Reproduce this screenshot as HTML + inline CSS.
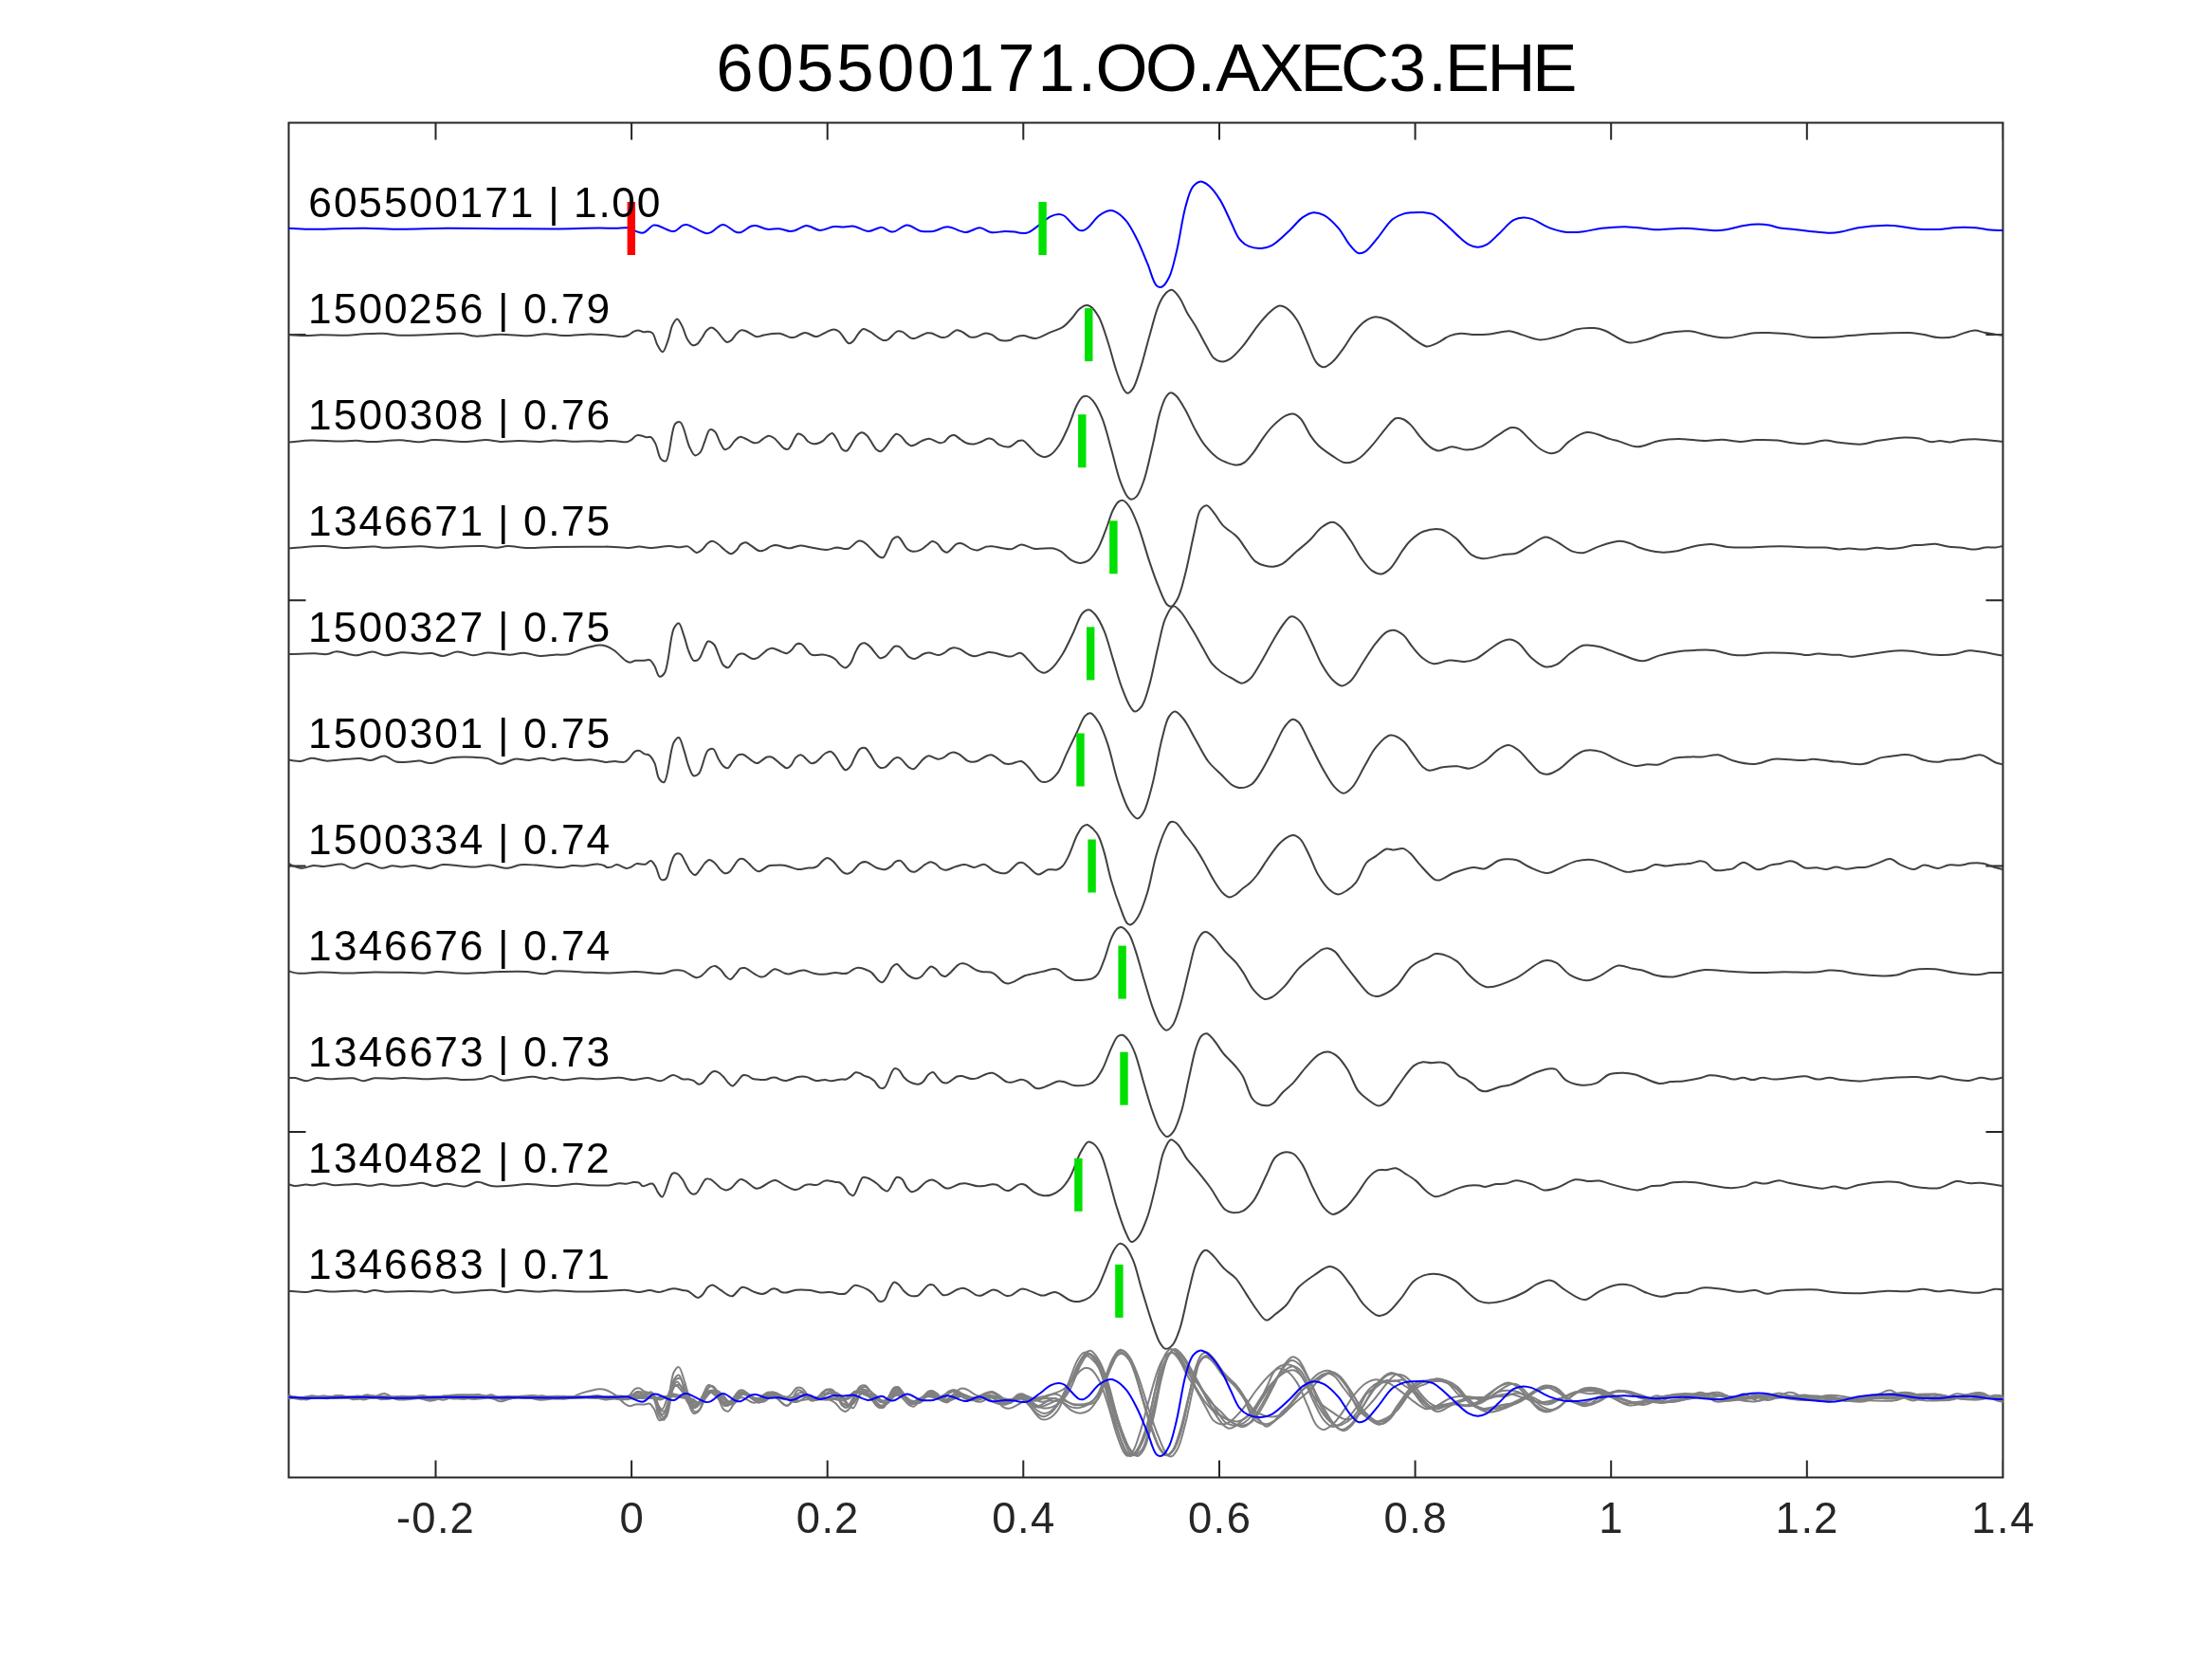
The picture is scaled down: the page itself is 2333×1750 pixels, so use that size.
<!DOCTYPE html><html><head><meta charset="utf-8"><style>html,body{margin:0;padding:0;background:#fff;overflow:hidden}svg{display:block;will-change:transform}text{font-family:"Liberation Sans",sans-serif}</style></head><body>
<svg width="2333" height="1750" viewBox="0 0 2333 1750">
<rect x="0" y="0" width="2333" height="1750" fill="#fff"/>
<text x="755.3 797.7 839.9 882.3 925.0 967.4 1009.5 1052.2 1094.4 1136.4 1155.6 1208.1 1262.6 1282.3 1327.8 1371.6 1413.9 1464.7 1506.3 1524.0 1568.4 1616.3" y="95.8" font-size="70.7" fill="#000">605500171.OO.AXEC3.EHE</text>
<defs><clipPath id="ax"><rect x="304.5" y="129.5" width="1808.0" height="1429.0"/></clipPath></defs>
<path d="M304.5 129.5 H2112.5 V1558.5 H304.5 Z M459.5 129.5 V147.5 M459.5 1558.5 V1540.5 M666.1 129.5 V147.5 M666.1 1558.5 V1540.5 M872.7 129.5 V147.5 M872.7 1558.5 V1540.5 M1079.3 129.5 V147.5 M1079.3 1558.5 V1540.5 M1286.0 129.5 V147.5 M1286.0 1558.5 V1540.5 M1492.6 129.5 V147.5 M1492.6 1558.5 V1540.5 M1699.2 129.5 V147.5 M1699.2 1558.5 V1540.5 M1905.8 129.5 V147.5 M1905.8 1558.5 V1540.5 M2112.4 129.5 V147.5 M2112.4 1558.5 V1540.5 M304.5 353.0 H322.5 M2112.5 353.0 H2094.5 M304.5 633.3 H322.5 M2112.5 633.3 H2094.5 M304.5 913.6 H322.5 M2112.5 913.6 H2094.5 M304.5 1194.0 H322.5 M2112.5 1194.0 H2094.5 M304.5 1474.3 H322.5 M2112.5 1474.3 H2094.5" fill="none" stroke="#262626" stroke-width="2"/>
<g clip-path="url(#ax)" fill="none" stroke-linejoin="round" stroke-linecap="round">
<defs><path id="w0" d="M304.2 240.8 C312.3 241.1 320.1 241.7 328.5 241.8 C337.6 241.9 347.5 241.4 357.0 241.2 C366.5 241.0 375.2 240.7 385.4 240.8 C397.1 240.9 410.0 241.8 423.4 241.8 C438.4 241.8 454.4 240.9 470.9 240.8 C489.0 240.7 508.8 241.1 527.8 241.2 C546.8 241.3 566.7 241.5 584.8 241.4 C601.4 241.3 620.3 240.6 632.3 240.6 C639.6 240.6 644.7 240.9 650.0 240.8 C654.2 240.7 657.3 239.8 661.4 240.3 C666.5 241.0 673.3 246.4 678.1 245.6 C682.3 244.9 685.9 238.5 688.9 237.6 C690.7 237.1 691.7 237.5 693.7 238.0 C697.4 238.9 705.8 243.8 709.2 244.1 C710.8 244.2 711.4 243.9 712.7 243.3 C714.8 242.3 718.0 238.5 720.3 237.6 C721.8 237.0 722.6 236.7 724.4 237.0 C728.7 237.6 740.4 245.6 744.9 246.1 C747.0 246.3 747.9 246.0 749.7 245.2 C752.8 243.9 758.2 237.9 761.1 237.2 C762.6 236.8 763.4 237.1 764.9 237.6 C767.8 238.6 773.2 243.8 776.3 244.8 C778.1 245.4 779.2 245.6 781.0 245.2 C784.1 244.5 789.3 239.5 792.4 238.5 C794.3 237.9 795.3 237.8 797.2 238.0 C800.4 238.3 805.4 241.3 809.5 241.8 C813.6 242.3 817.8 240.8 821.8 241.2 C825.7 241.6 830.2 243.7 833.2 243.9 C835.1 244.0 836.1 243.8 838.0 243.3 C841.0 242.4 846.6 238.7 849.4 238.2 C851.0 237.9 851.6 238.1 853.2 238.5 C856.0 239.1 860.5 242.6 864.6 242.9 C869.2 243.2 875.1 239.6 879.7 239.1 C883.5 238.7 886.7 239.6 890.2 239.5 C893.7 239.4 896.9 238.2 900.6 238.7 C905.2 239.3 911.0 243.9 915.8 243.9 C920.1 243.9 925.5 240.2 928.2 239.9 C929.4 239.7 929.8 239.8 931.0 240.1 C933.4 240.7 937.7 244.7 941.5 244.6 C946.1 244.5 951.6 237.7 956.6 237.6 C961.4 237.5 966.1 242.7 970.9 243.7 C975.3 244.6 979.7 244.5 984.2 243.9 C989.2 243.2 994.0 239.3 999.4 239.3 C1005.4 239.3 1012.4 245.0 1018.4 245.0 C1023.7 245.0 1028.9 240.1 1033.5 240.3 C1037.6 240.5 1040.7 244.3 1044.9 245.0 C1049.5 245.8 1055.6 244.1 1060.1 244.1 C1063.8 244.1 1067.2 244.3 1070.0 244.6 C1072.2 244.9 1073.9 245.4 1075.7 245.7 C1077.3 245.9 1078.8 246.2 1080.4 246.1 C1082.0 246.0 1083.3 245.7 1085.2 244.9 C1088.3 243.5 1092.8 239.7 1096.6 237.0 C1100.4 234.2 1104.3 230.3 1108.0 228.4 C1110.9 226.9 1113.9 225.9 1116.5 225.9 C1118.6 225.9 1120.4 226.4 1122.2 227.5 C1124.5 228.8 1126.5 231.8 1128.9 234.1 C1131.6 236.7 1134.8 240.9 1137.4 242.3 C1139.1 243.2 1140.6 243.5 1142.2 243.2 C1144.1 242.9 1145.7 241.5 1147.8 239.8 C1151.1 237.1 1155.2 230.5 1159.2 227.5 C1162.6 225.0 1166.5 222.7 1169.7 222.2 C1172.1 221.8 1174.0 222.2 1176.3 223.3 C1179.8 224.9 1184.2 228.7 1187.7 232.8 C1192.0 237.8 1195.5 245.1 1199.1 252.2 C1203.2 260.2 1206.9 270.2 1210.5 278.7 C1213.8 286.6 1216.3 298.6 1220.0 301.5 C1221.8 302.9 1223.9 303.2 1225.7 302.5 C1228.4 301.4 1231.1 296.5 1233.3 292.0 C1236.5 285.4 1238.4 275.6 1240.9 265.4 C1244.2 251.9 1246.9 230.5 1250.4 218.0 C1252.8 209.5 1254.5 201.6 1258.0 197.1 C1260.4 194.1 1263.6 191.5 1266.5 191.4 C1269.3 191.3 1272.3 193.7 1275.1 196.1 C1279.0 199.4 1283.0 204.9 1286.5 210.4 C1290.7 216.9 1294.2 225.9 1297.8 233.2 C1301.1 239.8 1303.5 247.6 1307.3 252.2 C1310.1 255.7 1313.1 258.1 1316.8 259.7 C1320.7 261.4 1325.9 262.2 1330.1 262.0 C1334.1 261.8 1337.5 260.9 1341.5 258.8 C1347.3 255.7 1354.8 247.9 1360.5 242.7 C1365.4 238.2 1369.2 232.6 1373.8 229.4 C1377.5 226.8 1381.3 224.5 1385.2 224.2 C1388.9 223.9 1392.8 225.1 1396.6 227.1 C1401.6 229.8 1407.4 235.7 1411.8 240.8 C1416.2 245.9 1419.3 253.2 1423.2 257.8 C1426.3 261.5 1429.5 266.1 1432.7 267.0 C1435.2 267.7 1437.7 266.7 1440.3 265.1 C1444.5 262.6 1449.0 255.6 1453.5 250.3 C1458.5 244.4 1463.5 235.5 1468.7 231.3 C1472.4 228.3 1476.3 226.8 1480.1 225.6 C1483.4 224.6 1486.6 224.5 1490.0 224.2 C1493.7 223.9 1497.8 223.8 1501.4 224.1 C1504.7 224.4 1507.6 224.5 1510.9 225.9 C1515.2 227.8 1519.7 232.2 1524.2 236.0 C1529.2 240.2 1534.8 246.4 1539.4 250.3 C1542.9 253.3 1545.6 256.1 1548.9 257.8 C1551.9 259.4 1555.2 260.6 1558.4 260.7 C1561.5 260.8 1564.6 259.9 1567.8 258.2 C1572.1 255.9 1576.6 250.6 1581.1 246.5 C1586.0 242.0 1591.4 234.9 1596.3 232.2 C1599.9 230.2 1603.5 229.5 1606.8 229.4 C1609.8 229.3 1612.0 229.8 1615.3 230.9 C1620.5 232.6 1628.4 238.1 1634.3 240.4 C1639.0 242.2 1643.5 243.4 1647.6 244.2 C1651.0 244.8 1653.7 245.1 1657.1 245.1 C1661.2 245.2 1665.6 244.8 1670.4 244.2 C1676.2 243.5 1682.6 241.6 1689.4 240.8 C1697.1 239.9 1706.0 239.1 1714.1 239.2 C1721.8 239.3 1730.5 240.7 1736.8 241.3 C1741.2 241.7 1743.6 242.2 1748.2 242.3 C1755.2 242.4 1766.7 240.8 1774.8 240.8 C1781.7 240.8 1787.8 241.5 1793.8 241.9 C1799.2 242.3 1804.3 243.2 1809.0 243.2 C1813.1 243.2 1816.1 243.0 1820.4 242.3 C1826.0 241.4 1833.4 238.8 1839.4 237.9 C1844.7 237.1 1849.9 236.6 1854.6 236.6 C1858.6 236.6 1862.2 236.9 1865.9 237.5 C1869.7 238.1 1873.2 239.7 1877.3 240.4 C1882.0 241.3 1886.9 241.5 1892.5 242.1 C1899.2 242.9 1908.2 244.0 1914.9 244.6 C1920.4 245.1 1925.1 245.8 1929.8 245.8 C1934.0 245.8 1937.4 245.4 1941.8 244.6 C1947.2 243.7 1952.9 241.3 1959.7 240.2 C1968.3 238.8 1982.2 237.8 1989.5 237.7 C1993.7 237.6 1995.4 237.8 1999.5 238.2 C2005.9 238.8 2016.5 241.1 2024.3 241.7 C2031.3 242.2 2037.6 242.2 2044.2 241.9 C2050.8 241.6 2057.5 240.3 2064.1 240.0 C2070.7 239.7 2077.9 239.8 2084.0 240.3 C2089.3 240.7 2094.1 242.0 2098.9 242.5 C2103.5 242.9 2107.8 242.9 2112.3 243.1"/><path id="w1" d="M304.2 353.3 C310.4 353.6 316.9 354.1 322.8 354.1 C328.1 354.1 332.1 353.4 338.0 353.3 C346.0 353.1 358.2 354.0 366.5 353.7 C372.9 353.5 377.5 352.6 383.5 352.3 C390.1 351.9 397.8 351.5 404.4 351.8 C410.4 352.1 415.2 353.4 421.5 353.7 C429.4 354.1 438.4 353.6 448.1 353.3 C459.6 353.0 476.3 351.1 486.1 351.8 C492.3 352.2 495.5 354.3 501.3 354.6 C508.9 355.0 518.8 352.8 527.8 352.7 C537.1 352.6 547.8 354.4 556.3 354.2 C563.3 354.0 569.0 352.2 575.3 352.2 C581.6 352.2 587.3 353.9 594.3 354.1 C602.8 354.3 615.1 352.5 622.8 352.5 C628.1 352.5 633.0 353.0 636.1 353.1 C637.8 353.2 638.2 353.1 640.0 353.2 C643.7 353.5 653.0 355.4 657.1 355.1 C659.5 354.9 661.0 354.3 662.8 353.5 C664.8 352.6 666.6 350.6 668.5 349.7 C670.1 349.0 671.6 348.4 673.2 348.4 C675.0 348.4 677.1 350.1 678.9 350.3 C680.5 350.5 682.1 349.5 683.7 349.7 C685.3 349.9 687.1 350.2 688.4 351.6 C690.6 353.8 691.3 360.2 693.2 363.6 C694.9 366.5 697.1 371.4 698.9 371.2 C701.0 371.0 702.9 363.4 704.6 358.9 C706.5 353.9 707.3 346.7 709.3 342.7 C710.7 340.0 712.5 336.5 714.1 336.5 C715.9 336.5 718.1 341.5 719.7 344.6 C721.6 348.2 722.5 353.6 724.5 357.0 C726.1 359.8 728.2 363.2 730.2 364.0 C731.7 364.6 733.4 364.1 734.9 363.2 C737.0 362.0 738.8 358.5 740.6 356.0 C742.3 353.5 743.5 350.2 745.4 348.4 C746.9 347.0 748.8 345.5 750.5 345.6 C752.3 345.7 753.9 347.3 755.8 349.0 C758.9 351.6 763.3 360.0 766.3 360.8 C768.0 361.3 769.5 360.2 771.0 359.2 C773.0 357.8 774.8 354.1 776.7 352.2 C778.3 350.6 779.8 348.9 781.5 348.4 C783.0 348.0 784.4 348.4 786.2 349.0 C789.2 350.0 794.8 354.5 797.6 355.1 C799.1 355.4 800.0 355.0 801.4 354.7 C803.1 354.4 804.7 353.6 807.1 353.2 C810.9 352.5 817.7 351.2 822.3 351.8 C826.4 352.3 830.7 355.6 833.7 356.0 C835.6 356.3 836.6 356.1 838.4 355.6 C841.3 354.9 845.3 351.0 848.9 350.9 C852.6 350.8 857.5 355.0 860.3 355.1 C861.9 355.2 862.7 354.6 864.1 354.1 C866.2 353.3 869.1 351.4 871.6 350.3 C874.1 349.2 876.9 347.5 879.2 347.5 C881.2 347.5 882.9 348.3 884.9 349.7 C888.2 352.0 892.4 361.8 895.4 362.3 C897.1 362.6 898.6 361.0 900.1 359.6 C902.1 357.7 903.8 353.5 905.8 351.3 C907.4 349.5 908.8 347.4 910.6 347.1 C912.5 346.8 914.7 348.4 917.2 349.7 C921.1 351.7 927.9 358.1 931.5 358.9 C933.4 359.3 934.5 359.1 936.2 358.3 C939.2 357.0 943.6 350.3 946.6 349.4 C948.4 348.8 949.6 349.2 951.4 349.9 C954.2 350.9 958.3 355.6 960.9 356.6 C962.4 357.2 963.1 357.2 964.7 357.0 C967.8 356.5 974.6 351.9 978.0 351.3 C979.9 351.0 980.9 351.2 982.7 351.6 C985.6 352.3 990.2 355.6 993.2 356.0 C995.3 356.3 996.9 355.9 998.9 355.1 C1001.8 353.9 1005.5 349.0 1008.4 348.4 C1010.4 348.0 1012.0 348.8 1014.1 349.7 C1016.9 350.9 1020.6 354.8 1023.5 355.6 C1025.5 356.1 1027.0 355.8 1029.2 355.4 C1032.2 354.8 1036.6 351.8 1039.7 351.6 C1042.1 351.5 1044.1 352.2 1046.3 353.2 C1048.9 354.4 1050.9 357.5 1053.9 358.5 C1057.3 359.6 1062.9 359.6 1065.7 358.8 C1067.4 358.3 1067.9 357.0 1069.5 356.3 C1071.9 355.3 1075.6 354.1 1079.0 354.1 C1083.1 354.1 1087.8 357.3 1092.3 356.9 C1097.3 356.4 1102.6 352.6 1107.5 350.6 C1112.1 348.7 1116.9 347.6 1120.8 345.1 C1124.5 342.7 1127.4 339.2 1130.3 336.0 C1133.1 333.0 1135.2 328.9 1137.8 326.5 C1139.9 324.6 1142.3 322.6 1144.5 322.2 C1146.4 321.8 1148.3 322.2 1150.2 323.3 C1153.1 325.1 1156.1 329.5 1158.7 334.1 C1162.4 340.6 1165.2 350.6 1168.2 359.7 C1171.6 369.8 1174.5 382.7 1177.7 392.0 C1180.2 399.2 1182.8 407.2 1185.3 411.0 C1186.6 412.9 1187.7 414.7 1189.1 414.8 C1190.8 414.9 1193.1 412.5 1194.8 410.1 C1197.8 406.0 1199.9 397.7 1202.4 390.1 C1205.6 380.3 1208.7 367.1 1211.9 355.9 C1215.0 345.0 1218.3 331.6 1221.4 323.7 C1223.3 318.8 1224.9 315.3 1227.1 312.3 C1228.8 309.9 1230.9 307.5 1232.8 306.6 C1234.1 305.9 1235.3 305.5 1236.6 306.0 C1238.9 306.8 1241.9 310.9 1244.2 314.2 C1247.1 318.3 1249.0 324.4 1251.8 329.4 C1254.7 334.5 1258.1 339.1 1261.3 344.6 C1265.0 350.9 1269.2 359.4 1272.7 365.4 C1275.4 370.1 1277.1 375.1 1280.3 377.8 C1283.0 380.1 1286.7 381.6 1289.7 381.6 C1292.4 381.6 1294.6 380.4 1297.3 378.7 C1301.4 376.1 1306.2 370.5 1310.6 365.4 C1315.7 359.4 1321.0 350.7 1325.8 344.6 C1329.8 339.6 1333.2 335.1 1337.2 331.3 C1340.8 327.9 1345.0 323.4 1348.6 322.7 C1351.3 322.2 1353.6 323.1 1356.2 324.6 C1359.9 326.8 1364.2 331.8 1367.6 337.0 C1372.0 343.5 1375.4 353.7 1379.0 361.6 C1382.3 368.8 1384.8 378.2 1388.5 382.5 C1390.8 385.2 1393.4 387.3 1396.1 387.3 C1399.1 387.3 1402.5 384.3 1405.6 381.6 C1409.6 378.1 1413.3 372.4 1417.0 367.3 C1420.9 362.0 1424.4 355.2 1428.4 350.3 C1432.0 345.9 1435.8 341.6 1439.7 338.9 C1442.8 336.7 1445.7 334.9 1449.2 334.5 C1453.2 334.0 1458.0 335.1 1462.5 337.0 C1468.2 339.3 1474.9 344.9 1480.0 348.7 C1484.3 351.8 1487.3 355.0 1491.4 357.8 C1495.6 360.6 1500.5 364.9 1504.7 365.4 C1508.0 365.8 1510.8 364.1 1514.2 362.6 C1518.8 360.7 1524.6 355.9 1529.4 354.1 C1533.4 352.6 1536.7 352.0 1540.8 351.8 C1545.5 351.5 1550.9 353.0 1555.9 353.1 C1561.0 353.2 1565.6 353.0 1571.1 352.5 C1577.5 351.9 1585.9 348.9 1592.0 349.3 C1597.0 349.6 1600.5 351.7 1605.3 353.1 C1611.1 354.7 1617.7 358.2 1624.3 358.4 C1631.5 358.6 1640.3 355.6 1647.1 353.5 C1652.8 351.8 1656.8 348.6 1662.3 347.4 C1668.2 346.1 1675.8 345.7 1681.3 346.1 C1685.6 346.4 1688.3 347.1 1692.7 348.7 C1699.5 351.2 1709.2 360.0 1717.3 361.3 C1724.4 362.4 1731.7 359.5 1738.2 357.8 C1744.3 356.2 1748.9 353.2 1755.3 351.8 C1763.1 350.1 1773.6 348.8 1781.9 349.3 C1789.3 349.8 1796.0 352.9 1802.8 354.1 C1809.3 355.2 1814.8 356.5 1821.8 356.3 C1830.4 356.0 1841.7 352.0 1850.3 351.2 C1857.2 350.6 1862.9 351.0 1869.2 351.2 C1875.5 351.4 1882.1 351.8 1888.2 352.5 C1894.0 353.2 1898.8 354.8 1905.0 355.4 C1912.4 356.1 1922.0 356.1 1929.8 355.8 C1936.8 355.6 1943.1 354.7 1949.7 354.1 C1956.3 353.5 1963.0 352.9 1969.6 352.4 C1976.2 352.0 1982.5 351.6 1989.5 351.4 C1997.3 351.2 2007.2 350.7 2014.4 351.1 C2020.0 351.4 2024.3 352.3 2029.3 353.1 C2034.3 353.9 2039.1 355.7 2044.2 356.1 C2049.6 356.5 2056.6 356.1 2061.1 355.1 C2064.3 354.4 2066.0 353.1 2069.1 352.1 C2073.1 350.9 2078.6 348.6 2083.0 348.6 C2086.8 348.6 2089.8 350.3 2093.9 351.1 C2099.2 352.1 2106.2 352.9 2112.3 353.8"/><path id="w2" d="M304.2 466.5 C312.3 465.9 320.1 464.8 328.5 464.6 C337.6 464.4 348.5 465.6 357.0 465.6 C363.9 465.6 369.9 464.7 375.9 464.8 C381.2 464.9 385.2 466.0 391.1 466.1 C399.5 466.2 412.3 464.0 421.5 464.2 C429.1 464.3 436.0 466.4 442.4 466.3 C447.9 466.2 451.6 464.3 457.6 464.1 C466.3 463.7 480.1 466.2 489.9 466.1 C498.2 466.0 505.9 464.0 512.7 464.1 C518.3 464.2 522.5 465.7 527.8 465.9 C533.8 466.1 540.2 465.0 546.8 465.0 C554.1 465.0 562.8 466.1 569.6 465.9 C575.2 465.7 579.4 464.5 584.8 464.4 C590.8 464.3 597.5 465.7 603.8 465.8 C610.1 465.9 617.0 465.2 622.8 465.2 C627.6 465.2 633.0 465.8 636.1 465.6 C637.8 465.5 638.4 465.2 640.0 465.1 C642.5 465.0 646.2 465.1 649.5 465.3 C653.1 465.5 658.0 466.7 660.9 466.2 C662.9 465.9 664.0 465.1 665.6 464.1 C667.5 462.9 669.4 460.1 671.3 459.4 C672.9 458.8 674.5 459.1 676.1 459.4 C677.9 459.7 680.0 461.0 681.8 461.3 C683.4 461.5 685.1 460.4 686.5 461.1 C688.4 462.0 689.8 465.0 691.3 467.9 C693.4 472.0 694.4 481.3 697.0 484.1 C698.5 485.7 700.7 487.1 702.3 486.3 C706.6 484.1 707.8 451.7 712.2 447.0 C713.8 445.3 715.8 444.5 717.5 445.3 C721.3 447.1 724.1 465.4 727.3 471.7 C729.2 475.5 730.9 479.8 733.0 480.3 C734.7 480.7 736.9 479.1 738.4 477.4 C740.7 474.9 741.8 469.2 743.5 465.1 C745.2 461.1 746.3 454.3 748.6 453.3 C750.1 452.6 752.3 453.8 753.9 455.2 C756.3 457.3 757.7 463.6 759.6 467.0 C761.2 469.8 762.5 473.6 764.4 474.2 C765.8 474.6 767.6 473.4 769.1 472.3 C771.1 470.8 772.8 467.1 774.8 465.1 C776.5 463.4 778.2 461.3 780.1 460.9 C781.8 460.5 783.3 461.5 785.3 462.2 C788.2 463.3 792.9 466.9 795.7 467.3 C797.5 467.5 798.9 467.1 800.4 466.4 C802.1 465.6 803.5 463.7 805.2 462.6 C807.0 461.5 809.0 459.8 810.9 459.7 C812.8 459.6 814.6 460.8 816.6 462.2 C819.8 464.4 824.0 471.5 827.0 473.0 C828.6 473.8 829.9 474.3 831.4 473.6 C834.6 472.1 838.3 458.6 841.6 457.5 C843.4 456.9 845.3 458.5 847.0 459.7 C849.0 461.1 850.6 464.5 852.7 466.0 C854.5 467.2 856.6 468.1 858.4 468.3 C860.0 468.5 861.6 468.0 863.1 467.5 C864.7 467.0 866.3 466.2 867.8 465.1 C869.5 463.9 870.9 461.7 872.6 460.3 C874.2 459.0 876.1 456.8 877.7 457.1 C879.6 457.5 881.3 461.5 883.0 464.1 C884.9 467.1 886.3 472.2 888.4 474.0 C889.8 475.2 891.5 476.1 893.1 475.5 C896.3 474.4 900.3 462.9 903.5 459.7 C905.3 457.9 906.9 456.4 908.7 456.3 C910.5 456.2 912.5 457.6 914.4 459.4 C917.6 462.3 921.3 471.7 924.4 474.2 C926.0 475.5 927.5 476.4 929.0 476.1 C930.8 475.8 932.6 473.0 934.3 471.1 C936.3 468.8 938.0 465.5 940.0 463.2 C941.7 461.2 943.4 458.1 945.3 457.8 C946.9 457.5 948.8 459.0 950.4 460.3 C952.4 461.9 954.2 465.3 956.1 467.0 C957.7 468.4 959.2 469.9 960.9 470.2 C962.4 470.4 963.9 469.6 965.6 468.9 C967.7 468.0 969.9 466.1 972.3 465.1 C974.7 464.1 977.1 462.7 979.9 462.8 C983.3 462.9 988.3 467.1 991.3 467.3 C993.2 467.4 994.5 466.9 996.0 466.0 C998.0 464.9 999.7 461.4 1001.7 460.3 C1003.3 459.4 1004.8 458.7 1006.5 459.0 C1008.6 459.4 1010.9 462.1 1013.1 463.5 C1015.3 464.9 1017.3 466.7 1019.7 467.5 C1022.1 468.3 1024.8 468.7 1027.3 468.5 C1029.9 468.3 1032.4 467.0 1034.9 466.0 C1037.5 465.0 1040.2 462.6 1042.5 462.4 C1044.3 462.2 1045.7 462.9 1047.3 463.7 C1049.4 464.8 1051.2 467.9 1053.9 469.2 C1056.9 470.6 1061.3 472.0 1064.7 471.3 C1068.1 470.6 1071.5 466.0 1074.2 465.0 C1076.0 464.4 1077.4 464.1 1079.0 464.6 C1081.0 465.3 1082.6 467.7 1084.7 469.7 C1087.5 472.3 1091.1 477.1 1094.2 479.2 C1096.5 480.7 1098.6 481.9 1100.8 482.1 C1103.0 482.3 1105.3 481.6 1107.5 480.2 C1110.7 478.2 1114.1 473.9 1117.0 469.7 C1120.6 464.5 1123.5 457.5 1126.5 450.8 C1129.8 443.4 1132.8 432.7 1135.9 427.0 C1137.8 423.4 1139.5 420.3 1141.6 418.9 C1143.1 417.9 1144.8 417.5 1146.4 417.9 C1148.5 418.4 1150.9 420.6 1153.0 423.2 C1156.3 427.2 1159.6 434.2 1162.5 441.3 C1166.2 450.3 1168.9 462.6 1172.0 473.5 C1175.2 484.7 1178.1 498.5 1181.5 507.7 C1183.9 514.2 1186.6 520.9 1189.1 523.9 C1190.4 525.5 1191.5 526.6 1192.9 526.7 C1194.6 526.8 1196.8 525.7 1198.6 523.9 C1201.5 520.9 1203.8 514.4 1206.2 507.7 C1209.7 497.8 1212.8 482.0 1215.7 469.7 C1218.5 458.0 1220.5 444.9 1223.3 435.6 C1225.3 428.8 1227.4 422.1 1229.9 418.5 C1231.4 416.4 1233.0 414.5 1234.7 414.3 C1236.5 414.1 1238.5 415.7 1240.4 417.5 C1243.5 420.4 1246.8 426.4 1249.9 431.8 C1253.7 438.4 1257.5 447.9 1261.3 454.6 C1264.5 460.2 1267.1 465.0 1270.8 469.7 C1274.6 474.5 1279.8 479.9 1284.1 483.0 C1287.3 485.3 1290.1 486.5 1293.5 487.8 C1297.0 489.1 1301.5 490.8 1304.9 490.6 C1307.7 490.4 1310.0 489.5 1312.5 487.8 C1315.8 485.6 1318.8 481.4 1322.0 477.3 C1325.8 472.4 1329.6 465.3 1333.4 460.3 C1336.6 456.0 1339.3 452.4 1342.9 448.9 C1346.8 445.1 1352.2 440.4 1356.2 438.4 C1358.9 437.1 1361.3 436.1 1363.8 436.5 C1366.4 436.9 1368.9 438.8 1371.4 441.3 C1375.3 445.3 1379.2 455.2 1382.8 460.3 C1385.4 464.1 1387.2 466.6 1390.4 469.7 C1394.4 473.6 1400.8 477.9 1405.6 481.1 C1409.6 483.8 1413.5 486.8 1417.0 487.8 C1419.7 488.5 1422.0 488.4 1424.6 487.8 C1427.7 487.1 1430.9 485.3 1434.1 483.0 C1438.4 479.9 1442.9 474.6 1447.3 469.7 C1452.3 464.1 1457.9 455.9 1462.5 450.8 C1465.9 447.0 1468.7 442.5 1472.0 441.3 C1474.6 440.4 1477.5 441.2 1480.0 442.2 C1482.7 443.3 1485.0 445.4 1487.6 447.9 C1491.2 451.4 1495.3 458.0 1499.0 462.2 C1502.2 465.8 1505.2 469.3 1508.5 471.6 C1511.2 473.5 1513.8 475.2 1517.0 475.4 C1521.1 475.7 1526.4 471.5 1531.3 471.3 C1536.3 471.1 1541.4 474.5 1546.5 474.5 C1551.5 474.5 1556.6 473.4 1561.6 471.3 C1567.4 468.9 1573.1 463.4 1578.7 459.9 C1583.9 456.7 1589.6 451.9 1593.9 451.1 C1596.8 450.6 1598.9 451.0 1601.5 452.3 C1605.2 454.1 1609.1 459.6 1612.9 463.1 C1616.7 466.6 1620.3 470.9 1624.3 473.5 C1627.9 475.8 1632.2 478.0 1635.7 478.3 C1638.5 478.5 1640.7 477.8 1643.3 476.4 C1647.0 474.4 1650.2 469.1 1654.7 465.9 C1660.0 462.2 1666.8 456.8 1673.7 456.1 C1681.3 455.3 1692.1 461.4 1698.4 463.1 C1702.3 464.2 1704.1 464.6 1707.8 465.6 C1713.0 467.1 1720.2 471.2 1726.8 471.3 C1734.0 471.4 1742.1 466.4 1749.6 465.0 C1756.7 463.7 1763.0 463.2 1770.5 463.1 C1779.3 463.0 1790.7 465.0 1799.0 465.0 C1805.4 465.0 1810.3 463.6 1816.1 463.7 C1822.3 463.8 1828.9 465.9 1835.1 465.9 C1840.9 465.9 1846.1 464.4 1852.2 464.1 C1859.2 463.8 1868.4 464.0 1874.9 464.6 C1879.9 465.1 1883.4 466.3 1888.2 466.9 C1893.7 467.6 1900.0 468.4 1906.0 468.1 C1912.2 467.7 1919.0 464.7 1924.9 464.6 C1930.2 464.5 1934.2 466.2 1939.8 466.8 C1946.8 467.6 1956.6 469.1 1963.7 468.6 C1969.6 468.2 1973.4 466.2 1979.6 465.1 C1988.0 463.7 2001.2 461.6 2009.4 461.4 C2015.2 461.3 2019.6 461.7 2024.3 462.6 C2028.6 463.4 2032.5 465.7 2036.3 466.1 C2039.7 466.4 2042.8 465.1 2046.2 465.1 C2049.7 465.1 2053.4 466.5 2057.1 466.4 C2061.0 466.3 2064.7 464.6 2069.1 464.1 C2074.5 463.5 2080.5 463.2 2087.0 463.4 C2094.7 463.7 2103.9 465.2 2112.3 466.1"/><path id="w3" d="M304.2 578.4 C316.7 577.6 331.1 575.9 341.8 576.1 C349.8 576.2 355.0 577.8 362.7 578.0 C372.3 578.2 386.9 576.2 394.9 576.5 C399.7 576.7 401.4 577.6 406.3 577.8 C415.3 578.1 434.1 576.1 444.3 576.3 C451.1 576.4 455.5 577.6 461.4 577.7 C467.6 577.8 473.4 577.0 480.4 576.7 C488.9 576.4 500.9 575.7 508.9 576.1 C514.8 576.4 519.4 577.9 524.1 577.8 C528.2 577.7 531.0 576.2 535.4 576.1 C541.3 575.9 548.8 577.8 556.3 578.0 C565.1 578.2 573.9 577.1 584.8 576.9 C599.4 576.6 628.7 576.8 636.1 576.7 C638.1 576.7 638.2 576.6 640.0 576.6 C644.4 576.7 656.5 578.1 662.8 577.9 C667.3 577.8 670.4 576.6 674.2 576.6 C678.0 576.6 681.2 577.8 685.6 577.9 C691.5 578.0 700.9 575.9 706.5 576.0 C710.3 576.1 712.8 577.2 715.9 577.3 C719.1 577.4 722.4 575.6 725.4 576.4 C728.7 577.3 732.1 582.9 734.9 583.0 C737.0 583.1 738.8 581.3 740.6 579.8 C742.7 578.1 744.3 574.8 746.3 573.2 C747.9 572.0 749.4 570.7 751.1 570.7 C752.9 570.7 754.8 572.1 756.8 573.5 C759.7 575.4 763.6 579.8 766.3 581.7 C768.1 582.9 769.4 584.3 771.0 584.2 C772.8 584.1 775.0 582.0 776.7 580.4 C778.5 578.7 779.6 575.5 781.5 574.1 C783.1 572.9 785.1 572.0 786.8 572.2 C788.6 572.4 789.9 574.2 791.9 575.4 C794.6 577.1 798.6 580.9 801.4 581.3 C803.5 581.6 805.3 580.6 807.1 579.8 C809.1 579.0 810.8 577.2 812.8 576.4 C814.6 575.7 816.3 575.1 818.5 575.1 C821.7 575.2 827.1 577.7 829.9 578.1 C831.5 578.3 832.1 578.5 833.7 578.3 C836.3 578.0 840.6 575.6 844.1 575.4 C847.6 575.2 850.7 576.6 854.6 577.3 C859.6 578.1 866.5 580.1 871.6 580.0 C875.8 579.9 879.6 577.6 883.0 577.5 C885.8 577.5 888.3 578.8 890.6 578.9 C892.4 579.0 893.8 579.1 895.4 578.5 C897.3 577.7 899.3 575.1 901.1 573.7 C902.7 572.5 904.2 570.8 905.8 570.5 C907.3 570.2 908.9 570.7 910.6 571.6 C913.2 572.9 916.4 576.6 919.1 579.2 C921.7 581.7 924.3 585.4 926.7 586.8 C928.3 587.7 930.1 588.6 931.5 588.0 C933.4 587.2 934.6 582.8 936.2 579.8 C938.1 576.3 939.6 570.6 941.9 568.4 C943.5 567.0 945.4 565.8 947.2 566.3 C950.3 567.2 953.9 576.7 957.1 579.2 C959.1 580.7 960.7 581.5 962.8 581.7 C965.3 581.9 968.8 581.0 971.3 579.8 C973.8 578.6 975.9 576.3 978.0 574.7 C979.9 573.3 981.5 571.1 983.3 570.9 C985.0 570.7 986.8 571.9 988.4 573.2 C990.5 574.8 992.1 578.8 994.1 580.4 C995.6 581.6 997.1 582.9 998.9 582.7 C1001.8 582.3 1006.3 575.0 1009.3 573.7 C1011.1 572.9 1012.2 572.8 1014.1 573.2 C1017.2 573.8 1022.2 578.3 1025.4 579.4 C1027.6 580.2 1029.0 580.6 1031.1 580.4 C1033.9 580.1 1037.8 577.2 1040.6 576.6 C1042.7 576.1 1043.8 576.1 1046.3 576.2 C1051.0 576.4 1061.0 580.0 1066.6 579.2 C1070.8 578.6 1073.4 574.6 1077.1 574.4 C1081.2 574.2 1085.4 578.0 1090.4 578.8 C1096.5 579.7 1106.1 577.4 1111.3 578.4 C1114.5 579.0 1116.2 580.0 1118.9 581.6 C1122.5 583.8 1126.6 589.0 1130.3 591.1 C1133.2 592.7 1136.0 593.9 1138.8 594.0 C1141.6 594.1 1144.6 593.4 1147.3 591.7 C1150.7 589.5 1153.9 585.3 1156.8 580.7 C1160.5 574.9 1163.4 566.1 1166.3 558.9 C1169.1 551.9 1171.2 543.3 1173.9 538.0 C1175.7 534.4 1177.5 531.0 1179.6 529.4 C1181.1 528.3 1182.8 527.5 1184.4 527.9 C1186.6 528.4 1188.9 531.2 1191.0 534.2 C1194.4 538.9 1197.4 547.1 1200.5 555.1 C1204.4 565.4 1208.2 580.0 1211.9 591.1 C1215.1 600.7 1218.0 609.5 1221.4 617.7 C1224.4 624.9 1227.7 634.6 1230.9 637.7 C1232.5 639.2 1234.1 640.0 1235.6 639.6 C1237.9 639.0 1240.3 634.8 1242.3 631.0 C1245.4 625.1 1247.4 615.8 1249.9 606.3 C1253.2 593.9 1256.4 575.2 1259.4 562.7 C1261.7 553.3 1262.7 542.8 1266.0 538.0 C1267.9 535.3 1270.5 533.0 1272.7 533.2 C1275.2 533.4 1277.8 537.8 1280.3 540.8 C1283.4 544.5 1285.9 550.0 1289.7 554.1 C1293.9 558.6 1300.7 562.0 1304.9 566.5 C1308.8 570.6 1311.2 575.4 1314.4 579.7 C1317.5 583.9 1320.3 589.3 1323.9 592.1 C1326.8 594.4 1330.2 595.6 1333.4 596.5 C1336.5 597.4 1339.8 598.1 1342.9 597.8 C1346.1 597.5 1349.1 596.7 1352.4 594.9 C1357.1 592.3 1362.7 585.8 1367.6 581.6 C1372.2 577.7 1376.6 574.4 1380.9 570.3 C1385.5 565.9 1389.6 559.3 1394.2 556.0 C1397.9 553.3 1402.2 550.5 1405.6 550.7 C1408.4 550.8 1410.6 552.8 1413.2 555.1 C1417.0 558.4 1420.9 564.9 1424.6 570.3 C1428.5 576.2 1431.9 583.6 1435.9 589.2 C1439.5 594.1 1443.3 599.5 1447.3 602.2 C1450.3 604.2 1453.7 605.7 1456.8 605.4 C1460.0 605.0 1463.2 602.7 1466.3 599.7 C1470.9 595.3 1476.0 585.1 1480.0 579.7 C1482.8 575.9 1484.5 573.2 1487.6 570.3 C1491.2 566.9 1495.8 562.8 1500.9 560.8 C1506.4 558.7 1514.1 557.3 1519.9 558.5 C1525.5 559.7 1530.2 563.5 1535.1 567.4 C1541.0 572.1 1546.7 581.9 1552.2 585.4 C1556.0 587.9 1559.0 588.9 1563.5 589.2 C1569.7 589.7 1579.7 586.1 1586.3 585.1 C1591.3 584.3 1595.3 584.9 1599.6 583.5 C1604.2 582.0 1608.2 578.5 1612.9 575.9 C1618.2 572.9 1624.8 566.8 1630.0 566.5 C1634.1 566.3 1637.3 569.1 1641.4 571.2 C1646.6 573.8 1653.2 579.7 1658.5 581.6 C1662.5 583.0 1665.9 583.7 1669.9 583.2 C1674.7 582.6 1679.5 578.8 1685.1 576.9 C1691.8 574.6 1701.5 571.0 1707.8 570.8 C1712.2 570.7 1715.6 571.9 1719.2 573.1 C1722.6 574.2 1724.8 576.2 1728.7 577.5 C1734.6 579.5 1744.4 582.1 1751.5 582.6 C1757.6 583.0 1763.1 582.3 1768.6 581.3 C1773.9 580.3 1778.3 578.1 1783.8 576.9 C1790.2 575.6 1798.1 574.0 1804.7 574.1 C1810.7 574.2 1815.9 576.3 1821.8 576.9 C1827.9 577.5 1834.1 577.5 1840.8 577.5 C1848.5 577.5 1857.4 576.7 1865.4 576.5 C1873.1 576.3 1881.2 576.3 1888.2 576.5 C1894.2 576.7 1899.2 577.2 1905.0 577.4 C1911.4 577.6 1918.8 577.2 1924.9 577.6 C1930.2 577.9 1935.3 579.3 1939.8 579.4 C1943.4 579.5 1946.1 578.6 1949.7 578.6 C1954.2 578.6 1959.6 579.7 1964.6 579.6 C1969.6 579.5 1974.9 577.9 1979.6 577.8 C1983.8 577.7 1987.5 578.9 1991.5 578.9 C1995.7 578.9 2000.0 578.5 2004.4 577.9 C2009.2 577.3 2014.8 575.6 2019.3 575.1 C2022.9 574.7 2025.8 575.0 2029.3 574.8 C2033.1 574.6 2037.2 573.5 2041.2 573.8 C2045.5 574.1 2049.7 575.9 2054.2 576.6 C2059.0 577.3 2064.2 577.3 2069.1 577.8 C2073.8 578.3 2078.7 579.8 2083.0 579.6 C2086.9 579.5 2090.2 577.8 2093.9 577.4 C2097.5 577.0 2101.6 577.7 2104.9 577.4 C2107.6 577.2 2109.8 576.5 2112.3 576.1"/><path id="w4" d="M304.2 690.1 C308.5 690.0 312.6 689.8 317.1 689.7 C322.0 689.5 327.5 689.1 332.3 689.2 C336.6 689.3 340.7 690.5 344.6 690.1 C348.3 689.8 351.0 687.4 355.1 687.3 C360.8 687.1 369.3 691.4 375.9 691.3 C381.9 691.2 387.7 687.3 393.0 687.5 C397.7 687.6 401.6 691.1 406.3 691.3 C411.6 691.6 417.4 688.5 423.4 688.2 C430.0 687.8 438.4 689.7 444.3 689.7 C448.7 689.7 451.9 688.6 455.7 689.0 C459.5 689.4 463.0 692.1 467.1 692.0 C471.8 691.9 477.1 687.7 482.3 687.5 C487.8 687.3 493.9 691.2 499.4 691.3 C504.6 691.4 509.0 688.6 514.6 688.4 C521.4 688.1 530.5 690.8 537.3 690.7 C542.9 690.6 547.3 688.6 552.5 688.8 C558.0 689.0 564.0 691.7 569.6 692.0 C574.8 692.3 579.7 691.0 584.8 690.7 C589.9 690.4 595.2 691.1 600.0 690.1 C604.7 689.1 608.4 686.5 613.3 685.0 C619.0 683.3 627.4 680.8 632.3 680.6 C635.4 680.5 637.4 681.0 639.9 681.8 C642.5 682.7 644.8 684.1 647.6 686.0 C651.4 688.6 656.7 694.8 659.9 696.8 C661.6 697.9 662.7 698.6 664.3 698.7 C666.2 698.8 668.1 697.1 670.4 696.8 C673.2 696.4 677.2 697.0 679.9 696.8 C681.9 696.7 683.6 695.5 685.2 696.1 C687.2 696.9 688.7 700.0 690.3 702.5 C692.2 705.6 693.2 712.9 695.4 713.5 C697.0 714.0 699.2 712.5 700.8 710.1 C705.3 703.6 706.7 670.3 710.8 662.7 C712.4 659.7 714.4 657.2 715.9 657.5 C718.1 657.9 719.9 666.6 721.6 671.4 C723.4 676.4 724.5 682.5 726.4 687.0 C728.0 690.7 729.5 695.8 731.7 696.8 C733.2 697.5 735.3 696.7 736.8 695.5 C739.2 693.6 740.7 687.5 742.5 684.1 C744.0 681.3 745.0 677.1 746.9 676.5 C748.6 676.0 751.3 677.9 753.0 679.7 C755.3 682.1 756.4 687.4 758.1 691.1 C759.7 694.7 760.9 699.7 763.0 701.8 C764.5 703.3 766.6 704.5 768.2 704.1 C770.0 703.6 771.3 700.1 772.9 698.0 C774.6 695.7 776.2 692.1 778.2 690.8 C779.8 689.8 781.4 689.4 783.4 689.6 C786.3 690.0 791.0 694.4 793.8 694.9 C795.6 695.2 796.7 695.0 798.5 694.2 C801.6 692.8 806.8 686.7 809.9 685.1 C811.7 684.1 812.8 683.6 814.7 683.7 C817.5 683.8 822.3 686.9 825.1 687.9 C827.0 688.5 828.4 689.5 829.9 689.2 C831.5 688.9 833.0 687.4 834.6 686.0 C836.5 684.3 838.3 680.3 840.3 679.4 C841.8 678.7 843.4 678.7 845.1 679.4 C848.2 680.7 852.3 688.8 855.5 690.4 C857.5 691.4 859.2 691.1 861.2 691.1 C863.3 691.1 865.5 690.2 867.8 690.4 C870.3 690.6 873.1 691.4 875.4 692.3 C877.5 693.1 879.3 694.1 881.1 695.5 C883.1 697.1 884.8 700.3 886.8 701.8 C888.4 703.0 890.0 704.6 891.6 704.4 C893.5 704.2 895.7 701.5 897.3 699.3 C899.3 696.5 900.3 691.8 902.0 688.5 C903.6 685.4 905.2 681.5 907.3 679.9 C908.8 678.7 910.8 678.1 912.5 678.4 C914.5 678.8 916.4 681.0 918.2 682.8 C920.2 684.8 922.1 687.8 923.9 689.8 C925.4 691.5 926.6 693.8 928.2 694.2 C929.7 694.6 931.8 693.7 933.4 692.7 C935.4 691.4 937.3 688.5 939.1 686.6 C940.7 684.9 942.1 682.4 943.8 681.8 C945.3 681.3 946.8 681.4 948.5 682.2 C951.6 683.7 955.8 691.2 959.0 693.2 C961.0 694.4 962.6 695.1 964.7 694.9 C967.5 694.6 971.4 690.9 974.2 689.8 C976.3 689.0 977.7 688.5 979.9 688.5 C982.9 688.5 987.5 691.3 990.3 691.1 C992.2 691.0 993.4 690.1 995.1 689.2 C997.2 688.1 999.6 685.5 1001.7 684.5 C1003.4 683.7 1004.8 683.2 1006.5 683.2 C1008.3 683.2 1010.1 683.8 1012.2 684.7 C1015.0 685.9 1018.8 689.1 1021.6 690.4 C1023.7 691.4 1025.3 692.2 1027.3 692.3 C1029.6 692.4 1032.4 691.1 1034.9 690.4 C1037.4 689.7 1040.1 688.4 1042.5 688.1 C1044.5 687.9 1045.8 688.1 1048.2 688.5 C1052.5 689.1 1060.7 692.9 1065.7 692.6 C1069.7 692.4 1073.0 688.2 1076.1 688.8 C1079.3 689.4 1081.8 693.6 1084.7 696.4 C1087.9 699.5 1091.1 704.6 1094.2 706.8 C1096.4 708.4 1098.5 709.8 1100.8 709.7 C1103.5 709.6 1106.6 707.4 1109.4 704.9 C1113.3 701.5 1117.2 695.5 1120.8 689.7 C1124.9 683.0 1128.6 674.3 1132.2 667.0 C1135.5 660.1 1138.1 650.8 1141.6 647.0 C1143.7 644.7 1146.1 643.1 1148.3 643.2 C1150.6 643.3 1152.8 645.6 1154.9 648.0 C1158.2 651.7 1161.5 658.4 1164.4 665.1 C1168.1 673.6 1170.7 685.3 1173.9 695.4 C1177.1 705.5 1179.9 716.7 1183.4 725.8 C1186.3 733.5 1190.1 742.7 1192.9 746.7 C1194.3 748.7 1195.2 750.4 1196.7 750.5 C1198.7 750.6 1202.1 747.7 1204.3 744.8 C1207.6 740.3 1209.5 732.1 1211.9 723.9 C1215.3 712.5 1218.3 694.9 1221.4 682.2 C1224.0 671.5 1225.7 660.4 1229.0 652.7 C1231.4 647.2 1234.4 640.0 1237.5 639.4 C1239.9 639.0 1242.5 642.3 1245.1 645.1 C1249.1 649.4 1253.5 657.6 1257.5 664.1 C1261.5 670.6 1265.3 677.8 1268.9 684.1 C1272.2 689.8 1274.9 695.9 1278.4 700.2 C1281.3 703.7 1284.4 706.2 1287.8 708.7 C1291.3 711.3 1295.4 713.4 1299.2 715.4 C1302.7 717.3 1306.4 720.7 1309.7 720.7 C1312.7 720.7 1315.5 718.7 1318.2 716.3 C1322.2 712.7 1325.8 705.4 1329.6 699.2 C1334.0 692.0 1338.5 682.8 1342.9 675.5 C1346.8 669.0 1350.6 662.0 1354.3 657.5 C1356.9 654.4 1359.1 650.7 1361.9 650.3 C1364.8 649.9 1368.5 652.6 1371.4 655.6 C1375.7 660.0 1379.1 669.2 1382.8 676.5 C1386.7 684.3 1390.1 693.9 1394.2 701.1 C1397.7 707.2 1401.6 713.4 1405.6 717.3 C1408.6 720.2 1411.9 723.3 1415.1 723.4 C1418.2 723.5 1421.5 721.0 1424.6 718.2 C1429.2 714.0 1433.4 704.9 1437.8 698.3 C1442.2 691.7 1446.6 684.0 1451.1 678.4 C1454.8 673.8 1458.8 668.7 1462.5 666.6 C1465.1 665.1 1467.5 664.4 1470.1 664.7 C1473.2 665.1 1477.0 667.3 1480.0 669.8 C1483.6 672.8 1486.1 678.2 1489.5 682.2 C1493.0 686.4 1496.8 691.4 1500.9 694.5 C1504.5 697.2 1508.0 699.7 1512.3 700.2 C1517.3 700.8 1523.8 696.7 1529.4 696.4 C1534.6 696.1 1539.9 698.2 1544.6 697.9 C1548.7 697.7 1552.0 697.1 1555.9 695.4 C1560.8 693.3 1566.4 688.2 1571.1 685.0 C1575.2 682.3 1578.7 679.2 1582.5 677.4 C1585.7 675.9 1588.9 674.5 1592.0 674.6 C1595.2 674.7 1598.3 676.2 1601.5 678.4 C1605.9 681.5 1609.9 689.3 1614.8 693.5 C1619.4 697.5 1625.1 702.5 1630.0 703.4 C1633.9 704.1 1637.6 702.9 1641.4 701.1 C1646.4 698.8 1651.6 692.3 1656.6 688.8 C1661.1 685.7 1665.0 682.0 1669.9 680.8 C1675.1 679.6 1681.1 680.9 1687.0 682.2 C1693.7 683.7 1700.5 687.3 1707.8 689.7 C1715.7 692.3 1725.0 697.4 1732.5 697.3 C1738.7 697.2 1743.7 693.2 1749.6 691.6 C1755.7 689.9 1762.2 688.5 1768.6 687.5 C1774.9 686.6 1781.3 686.2 1787.6 685.9 C1793.9 685.6 1800.2 685.2 1806.6 685.9 C1813.4 686.7 1821.3 689.9 1827.5 690.7 C1832.4 691.4 1836.0 691.5 1840.8 691.3 C1846.6 691.1 1853.1 689.2 1859.7 688.8 C1866.9 688.3 1875.4 688.5 1882.5 688.8 C1888.7 689.1 1895.9 689.8 1900.0 690.3 C1902.2 690.6 1902.9 691.1 1905.0 691.1 C1908.3 691.2 1913.5 689.7 1917.9 689.6 C1922.4 689.5 1927.8 690.6 1931.8 690.8 C1934.8 690.9 1936.9 690.6 1939.8 690.8 C1943.4 691.1 1947.3 692.6 1951.7 692.7 C1957.1 692.8 1962.9 691.3 1969.6 690.4 C1978.3 689.3 1990.8 686.9 1999.5 686.4 C2006.2 686.0 2012.1 686.3 2017.4 686.9 C2021.8 687.4 2024.8 688.6 2029.3 689.3 C2035.1 690.1 2043.4 691.1 2049.2 691.1 C2053.7 691.1 2056.9 690.8 2061.1 690.1 C2066.0 689.3 2072.0 686.6 2077.0 686.3 C2081.3 686.0 2084.4 687.0 2089.0 687.6 C2095.5 688.5 2104.5 690.3 2112.3 691.6"/><path id="w5" d="M304.2 801.6 C308.5 802.1 313.0 803.4 317.1 803.0 C321.1 802.7 324.4 799.9 328.5 799.7 C333.2 799.5 338.1 802.3 343.7 802.6 C350.5 803.0 359.9 801.1 366.5 800.7 C371.5 800.4 375.5 799.8 379.7 800.1 C383.7 800.3 387.1 802.3 391.1 802.0 C395.6 801.7 400.9 797.2 405.4 797.5 C409.7 797.8 413.3 802.5 417.7 803.5 C422.4 804.6 428.4 803.7 432.9 803.5 C436.4 803.3 439.1 802.4 442.4 802.6 C446.0 802.8 449.6 805.2 453.8 805.1 C458.9 805.0 465.7 801.4 470.9 800.3 C475.1 799.4 478.1 799.1 482.3 798.8 C487.4 798.5 493.9 798.6 499.4 798.8 C504.6 799.0 509.8 798.9 514.6 800.1 C519.3 801.3 523.2 805.6 527.8 805.8 C532.7 806.0 537.9 801.3 543.0 800.7 C548.0 800.1 553.3 802.2 558.2 802.0 C562.8 801.8 567.2 799.6 571.5 799.7 C575.5 799.8 579.1 801.9 582.9 802.0 C586.7 802.1 590.3 800.1 594.3 800.1 C598.6 800.1 603.0 801.8 607.6 802.0 C612.5 802.2 617.8 801.0 622.8 801.3 C627.9 801.6 635.3 803.6 638.0 803.9 C639.0 804.0 639.1 804.0 640.0 804.0 C641.9 803.9 646.0 803.0 648.5 803.0 C650.6 803.0 652.4 803.7 654.2 803.8 C655.9 803.9 657.5 804.2 659.0 803.6 C660.7 803.0 662.1 801.4 663.7 799.8 C665.6 797.9 667.3 794.1 669.4 792.8 C670.9 791.9 672.6 791.5 674.2 791.8 C676.1 792.1 678.0 794.6 679.9 795.4 C681.5 796.1 683.1 795.6 684.6 796.6 C686.7 798.0 688.7 801.3 690.3 804.6 C692.4 809.0 692.7 817.9 695.1 821.3 C696.6 823.4 698.8 825.7 700.4 825.1 C704.6 823.5 706.6 790.4 710.6 783.3 C712.3 780.3 714.3 777.7 715.9 778.0 C718.2 778.5 719.9 787.3 721.6 792.2 C723.4 797.4 724.5 803.8 726.4 808.4 C727.9 812.2 729.3 817.4 731.5 818.2 C733.0 818.8 735.1 817.9 736.8 816.3 C740.5 812.8 743.0 795.0 746.7 791.6 C748.4 790.0 750.4 789.3 752.0 789.9 C754.3 790.8 755.8 797.2 757.7 800.4 C759.3 803.1 760.6 806.1 762.5 807.8 C764.0 809.1 766.0 810.7 767.6 810.3 C769.6 809.8 771.1 805.5 772.9 803.2 C774.6 800.9 776.2 797.8 778.2 796.6 C779.8 795.7 781.5 795.4 783.4 795.8 C786.4 796.5 791.0 801.4 793.8 803.0 C795.6 804.0 796.7 805.2 798.5 805.1 C801.4 804.9 806.1 799.3 809.0 798.5 C810.8 798.0 811.9 797.9 813.7 798.5 C816.8 799.6 822.1 805.3 825.1 807.4 C827.0 808.7 828.3 810.4 829.9 810.3 C831.5 810.2 833.2 808.4 834.6 806.8 C836.4 804.8 837.4 800.6 839.4 798.9 C841.0 797.5 843.0 796.1 845.1 796.4 C848.2 796.8 852.5 804.4 855.5 805.1 C857.3 805.5 858.5 804.9 860.3 804.0 C863.3 802.4 867.6 796.3 870.7 794.5 C872.6 793.4 874.3 792.5 876.0 792.8 C877.8 793.2 879.5 795.4 881.1 797.3 C883.2 799.8 884.9 804.2 886.8 806.8 C888.4 808.9 889.9 812.0 891.6 812.2 C893.2 812.4 895.2 810.5 896.7 808.7 C898.8 806.2 900.1 801.2 902.0 797.9 C903.7 795.0 905.2 791.3 907.3 789.9 C908.9 788.9 910.9 788.4 912.5 789.0 C914.4 789.7 916.0 792.8 917.6 795.1 C919.5 797.8 921.0 801.6 922.9 804.2 C924.5 806.4 926.3 809.0 928.2 809.7 C929.8 810.3 931.5 810.1 933.4 809.3 C936.5 808.0 940.8 801.1 943.8 799.8 C945.5 799.0 946.8 798.8 948.5 799.4 C951.5 800.5 956.0 807.9 959.0 809.7 C960.7 810.7 962.0 811.6 963.7 811.2 C966.7 810.4 971.1 802.8 974.2 800.4 C976.1 798.9 977.4 797.5 979.5 797.3 C982.3 797.0 987.0 800.8 989.9 800.8 C991.9 800.8 993.4 800.0 995.1 799.2 C997.0 798.2 998.9 796.1 1000.8 795.1 C1002.4 794.3 1003.9 793.5 1005.5 793.5 C1007.3 793.5 1009.2 794.3 1011.2 795.4 C1014.1 796.9 1018.0 801.4 1020.7 802.7 C1022.4 803.5 1023.8 803.8 1025.4 803.8 C1027.2 803.8 1029.0 803.5 1031.1 802.7 C1034.1 801.6 1038.7 797.9 1041.6 797.0 C1043.4 796.4 1044.4 796.0 1046.3 796.4 C1049.8 797.2 1056.3 804.3 1060.0 805.5 C1062.2 806.2 1063.5 806.0 1065.7 805.8 C1068.9 805.5 1073.8 802.3 1077.1 803.0 C1080.1 803.7 1081.9 806.5 1084.7 809.2 C1088.7 813.0 1093.8 822.6 1098.0 824.4 C1100.6 825.5 1103.1 825.1 1105.6 824.1 C1108.8 822.8 1112.3 819.6 1115.1 815.9 C1118.9 811.0 1121.3 802.8 1124.6 795.9 C1128.2 788.3 1132.4 779.4 1135.9 772.2 C1138.9 766.0 1141.4 758.2 1144.5 755.1 C1146.3 753.3 1148.3 751.9 1150.2 752.3 C1153.0 752.8 1156.1 757.7 1158.7 761.8 C1162.3 767.5 1165.2 775.7 1168.2 784.6 C1172.2 796.3 1175.4 813.8 1179.6 826.3 C1183.1 836.8 1186.7 848.3 1191.0 854.8 C1193.7 858.9 1196.9 863.4 1199.6 863.4 C1202.0 863.4 1204.2 860.1 1206.2 856.7 C1209.9 850.5 1212.8 837.5 1215.7 826.3 C1219.2 812.7 1221.9 793.6 1225.2 780.8 C1227.7 771.3 1229.5 761.2 1232.8 756.1 C1234.7 753.1 1237.1 750.4 1239.4 750.4 C1242.1 750.4 1245.1 754.5 1248.0 758.0 C1252.4 763.3 1256.9 773.2 1261.3 780.8 C1265.7 788.4 1269.7 797.2 1274.6 803.5 C1278.7 808.8 1283.5 812.6 1287.8 816.8 C1291.7 820.7 1295.3 825.4 1299.2 827.8 C1302.3 829.7 1305.4 831.1 1308.7 831.1 C1312.3 831.1 1316.8 829.7 1320.1 827.3 C1323.9 824.6 1326.4 819.9 1329.6 814.9 C1333.9 808.2 1338.7 798.4 1342.9 790.3 C1346.9 782.6 1350.3 773.1 1354.3 767.5 C1357.0 763.7 1359.9 759.5 1362.8 758.9 C1365.0 758.5 1367.3 759.8 1369.5 761.8 C1373.4 765.4 1377.0 775.3 1380.9 782.7 C1385.2 791.0 1389.5 801.0 1394.2 809.2 C1398.5 816.7 1403.0 825.3 1407.5 830.1 C1410.6 833.4 1413.8 836.8 1417.0 836.8 C1420.2 836.8 1423.4 833.5 1426.5 830.1 C1431.1 825.0 1435.4 814.5 1439.7 807.3 C1443.6 800.7 1446.5 793.8 1451.1 788.4 C1455.5 783.3 1461.1 776.3 1466.3 775.6 C1470.8 775.0 1476.2 778.7 1480.0 781.7 C1483.9 784.8 1486.2 789.8 1489.5 794.1 C1493.1 798.9 1497.3 806.1 1500.9 809.2 C1503.2 811.1 1504.8 812.4 1507.5 812.7 C1511.3 813.2 1516.9 809.9 1521.8 809.2 C1526.8 808.5 1532.1 808.0 1537.0 808.3 C1541.6 808.6 1545.8 811.2 1550.3 810.6 C1555.3 809.9 1560.6 806.6 1565.4 803.5 C1570.7 800.0 1575.8 793.3 1580.6 790.3 C1584.2 788.0 1587.6 785.8 1591.1 785.9 C1594.6 786.0 1598.2 788.7 1601.5 791.2 C1605.5 794.2 1609.1 799.5 1612.9 803.5 C1616.7 807.4 1620.6 812.8 1624.3 814.9 C1626.9 816.4 1629.1 817.1 1631.9 816.8 C1635.8 816.5 1640.8 813.6 1645.2 810.8 C1650.3 807.5 1655.5 801.1 1660.4 797.8 C1664.3 795.1 1667.5 792.7 1671.8 791.8 C1676.8 790.8 1683.5 791.6 1688.9 793.1 C1694.3 794.6 1698.6 798.4 1704.1 800.7 C1710.4 803.4 1718.9 807.3 1724.9 807.9 C1729.2 808.3 1732.3 806.7 1736.3 806.4 C1740.6 806.1 1745.1 807.3 1749.6 806.4 C1754.6 805.4 1759.3 801.4 1764.8 800.1 C1770.7 798.7 1778.3 798.6 1783.8 798.4 C1788.1 798.2 1791.0 798.7 1795.2 798.4 C1800.3 798.1 1806.8 795.6 1812.3 796.3 C1817.6 797.0 1821.8 800.6 1827.5 802.2 C1834.2 804.1 1842.9 806.3 1850.3 806.0 C1857.4 805.7 1864.5 801.4 1871.1 800.7 C1877.0 800.1 1883.0 801.1 1888.2 801.3 C1892.5 801.5 1896.9 802.0 1900.0 802.0 C1902.0 802.0 1903.2 802.0 1905.0 801.8 C1907.1 801.6 1909.3 800.9 1911.9 800.8 C1915.1 800.7 1919.2 801.4 1922.9 801.8 C1926.8 802.3 1931.3 803.2 1934.8 803.5 C1937.4 803.7 1939.3 803.4 1941.8 803.7 C1944.8 804.0 1948.2 805.1 1951.7 805.5 C1955.7 805.9 1961.0 806.4 1964.6 806.0 C1967.3 805.7 1969.0 805.2 1971.6 804.3 C1974.9 803.2 1978.7 800.7 1982.5 799.6 C1986.3 798.5 1990.3 798.4 1994.5 797.8 C1999.2 797.2 2005.2 796.1 2009.4 796.1 C2012.5 796.1 2014.5 796.4 2017.4 797.1 C2021.0 798.0 2025.0 800.7 2029.3 801.8 C2033.9 803.0 2039.7 803.9 2044.2 803.8 C2047.9 803.7 2050.5 802.3 2054.2 801.8 C2058.7 801.2 2064.0 801.4 2069.1 800.6 C2074.6 799.7 2081.8 796.7 2086.0 796.4 C2088.5 796.2 2089.7 796.4 2092.0 797.1 C2095.4 798.2 2100.2 802.4 2103.9 804.0 C2106.9 805.3 2109.5 805.7 2112.3 806.5"/><path id="w6" d="M304.2 910.7 C306.0 911.6 307.4 912.7 309.5 913.5 C312.2 914.5 315.7 915.8 319.0 915.8 C322.6 915.8 326.6 913.3 330.4 913.0 C334.2 912.7 337.5 914.0 341.8 913.9 C347.3 913.8 355.3 911.0 360.8 911.6 C365.2 912.1 368.1 915.7 372.2 915.8 C376.9 915.9 382.3 910.7 387.3 910.7 C392.4 910.7 397.8 915.6 402.5 915.8 C406.5 916.0 410.3 913.4 413.9 913.2 C417.2 913.1 420.0 914.5 423.4 914.5 C427.5 914.5 432.0 912.9 436.7 913.0 C442.1 913.2 448.5 916.3 453.8 916.0 C458.5 915.7 462.2 912.5 467.1 912.0 C472.8 911.4 480.1 913.1 486.1 913.5 C491.4 913.9 496.2 914.6 501.3 914.5 C506.4 914.4 511.2 912.5 516.5 912.6 C522.5 912.7 529.7 916.1 535.4 915.8 C540.2 915.6 543.9 912.8 548.7 912.2 C554.0 911.6 559.5 912.2 565.8 912.6 C573.7 913.1 585.4 915.4 592.4 915.1 C597.0 914.9 600.0 913.3 603.8 913.0 C607.6 912.7 611.1 913.7 615.2 913.5 C619.9 913.3 626.2 911.3 630.4 911.6 C633.4 911.8 636.3 912.7 638.0 913.5 C638.9 913.9 639.1 914.7 640.0 914.9 C641.2 915.2 643.1 915.0 644.7 914.6 C646.5 914.2 648.2 912.2 650.4 912.1 C653.4 912.0 658.1 915.8 660.9 915.9 C662.8 916.0 664.0 915.3 665.6 914.6 C667.5 913.8 669.1 911.7 671.3 911.1 C674.0 910.4 678.1 912.4 680.8 911.7 C683.1 911.1 684.8 907.6 686.5 907.9 C688.4 908.2 690.0 911.6 691.6 914.2 C693.7 917.7 694.5 926.0 697.0 927.5 C698.5 928.4 700.8 928.3 702.3 927.1 C704.9 925.1 705.6 916.3 707.4 911.7 C708.9 907.8 710.0 902.8 712.2 901.3 C713.7 900.3 715.9 900.1 717.5 900.9 C719.6 901.9 720.9 906.0 722.6 908.9 C724.5 912.1 726.2 916.8 728.3 919.3 C729.8 921.1 731.5 923.2 733.0 923.1 C734.6 923.0 736.2 920.3 737.8 918.4 C739.7 916.2 741.5 912.4 743.5 910.4 C745.0 908.9 746.5 907.1 748.2 907.0 C750.0 906.9 752.1 908.9 753.9 910.4 C756.0 912.2 757.7 915.5 759.6 917.4 C761.2 919.0 762.7 920.9 764.4 921.2 C765.9 921.5 767.6 920.9 769.1 919.9 C771.2 918.5 773.0 914.7 774.8 912.3 C776.4 910.2 777.8 907.3 779.6 906.4 C781.0 905.7 782.8 905.7 784.3 906.2 C786.2 906.9 788.1 909.4 790.0 911.1 C791.9 912.9 793.8 915.4 795.7 916.8 C797.3 918.0 798.5 919.3 800.4 919.3 C803.2 919.2 807.8 914.2 810.9 913.2 C813.0 912.5 814.5 912.8 816.6 912.7 C819.4 912.6 823.4 912.4 826.1 912.7 C828.3 912.9 829.7 913.4 831.8 914.0 C834.6 914.8 838.0 916.7 841.3 917.0 C844.9 917.3 849.7 915.7 852.7 915.5 C854.6 915.4 855.9 915.8 857.4 915.5 C859.0 915.2 860.6 914.6 862.2 913.6 C864.1 912.3 865.9 909.4 867.8 907.9 C869.4 906.7 870.9 905.1 872.6 905.1 C874.4 905.1 876.3 906.7 878.3 908.3 C881.4 910.8 885.7 917.8 888.7 919.9 C890.4 921.1 891.9 921.8 893.5 921.8 C895.1 921.8 896.5 921.0 898.2 919.9 C901.0 918.1 904.7 912.0 907.7 910.4 C909.7 909.3 911.2 908.9 913.4 909.2 C916.6 909.7 921.7 914.3 924.8 915.5 C926.7 916.3 928.0 916.6 929.6 916.8 C931.2 917.0 932.7 917.4 934.3 917.0 C936.2 916.5 938.3 914.9 940.0 913.6 C941.7 912.2 943.0 909.8 944.7 908.9 C946.2 908.1 947.8 907.4 949.5 907.9 C952.5 908.8 956.9 917.0 959.9 918.7 C961.6 919.7 962.9 920.1 964.7 919.7 C967.8 919.1 973.0 913.5 976.1 911.7 C978.1 910.5 979.6 909.3 981.4 909.2 C983.1 909.1 984.8 910.1 986.5 911.1 C988.5 912.3 990.3 915.0 992.2 916.1 C993.8 917.0 995.1 917.8 997.0 917.8 C1000.0 917.8 1004.8 915.0 1008.4 914.0 C1011.7 913.1 1014.7 912.0 1017.8 912.1 C1021.0 912.2 1024.1 914.9 1027.3 914.9 C1030.7 914.9 1034.4 911.2 1037.8 911.7 C1041.4 912.2 1045.2 917.2 1048.2 918.7 C1050.3 919.7 1051.9 920.2 1053.9 920.6 C1055.9 921.0 1058.2 921.5 1060.0 921.2 C1061.4 921.0 1062.3 920.5 1063.8 919.6 C1066.5 917.9 1071.2 911.5 1074.2 910.3 C1076.0 909.6 1077.4 909.6 1079.0 910.1 C1080.9 910.7 1082.5 912.8 1084.7 914.5 C1087.6 916.8 1091.5 922.1 1095.1 922.5 C1098.5 922.8 1102.1 918.1 1105.6 917.3 C1108.8 916.6 1112.4 918.1 1115.1 917.3 C1117.4 916.6 1119.1 915.3 1120.8 913.5 C1123.0 911.2 1124.5 908.0 1126.5 904.1 C1129.5 898.2 1132.9 887.1 1135.9 881.3 C1137.9 877.5 1139.5 874.1 1141.6 872.2 C1143.1 870.9 1144.7 869.8 1146.4 869.9 C1148.5 870.1 1151.0 872.7 1153.0 874.6 C1155.2 876.7 1157.0 879.0 1158.7 882.2 C1161.0 886.5 1162.5 892.1 1164.4 898.4 C1167.0 906.9 1169.1 918.8 1172.0 928.7 C1174.8 938.4 1178.3 949.0 1181.5 957.2 C1184.0 963.7 1186.4 972.0 1189.1 974.3 C1190.3 975.3 1191.6 975.7 1192.9 975.3 C1195.2 974.6 1198.1 970.6 1200.5 966.7 C1204.1 960.8 1207.1 951.3 1210.0 942.0 C1213.6 930.4 1216.0 914.0 1219.5 902.2 C1222.4 892.4 1225.8 881.9 1229.0 875.6 C1230.9 871.8 1232.4 868.0 1234.7 867.0 C1236.4 866.3 1238.5 866.8 1240.4 868.0 C1243.5 869.9 1246.7 876.2 1249.9 880.3 C1253.1 884.4 1256.3 888.3 1259.4 892.7 C1262.7 897.4 1265.7 902.3 1268.9 907.8 C1272.6 914.1 1276.5 922.6 1280.3 928.7 C1283.4 933.7 1286.5 938.9 1289.7 942.0 C1291.9 944.1 1294.1 946.1 1296.4 946.4 C1298.5 946.6 1300.8 945.2 1303.0 943.9 C1305.6 942.4 1308.0 939.4 1310.6 937.3 C1313.1 935.3 1315.8 933.8 1318.2 931.6 C1320.9 929.1 1323.1 926.5 1325.8 923.0 C1329.4 918.4 1333.3 911.4 1337.2 905.9 C1340.9 900.7 1345.0 894.7 1348.6 890.8 C1351.2 888.0 1353.5 885.8 1356.2 884.1 C1358.6 882.6 1361.3 880.8 1363.8 880.9 C1366.4 881.0 1369.0 882.7 1371.4 885.1 C1374.9 888.6 1377.8 896.2 1380.9 902.2 C1384.2 908.7 1386.7 916.8 1390.4 923.0 C1393.8 928.7 1397.8 934.7 1401.8 938.2 C1404.8 940.8 1408.1 943.3 1411.3 943.4 C1414.4 943.5 1417.8 941.2 1420.8 939.2 C1424.2 937.0 1427.3 934.4 1430.3 930.6 C1434.4 925.4 1437.4 914.4 1441.6 909.7 C1444.5 906.4 1447.8 905.4 1451.1 903.1 C1454.7 900.6 1458.9 896.3 1462.5 895.5 C1465.2 894.9 1467.4 896.5 1470.1 896.5 C1473.2 896.5 1477.0 894.4 1480.0 895.1 C1482.8 895.8 1485.1 898.0 1487.6 900.3 C1490.8 903.2 1493.4 907.6 1497.1 911.6 C1501.7 916.6 1509.1 925.8 1513.2 927.8 C1515.1 928.7 1516.0 928.7 1518.0 928.4 C1521.7 927.8 1527.6 923.0 1533.2 920.8 C1539.5 918.4 1548.2 915.3 1554.1 914.9 C1558.4 914.6 1561.5 917.2 1565.4 916.4 C1570.2 915.5 1576.3 909.4 1580.6 907.8 C1583.5 906.7 1585.4 906.5 1588.2 906.3 C1591.6 906.1 1595.8 906.2 1599.6 907.3 C1604.0 908.6 1608.0 912.3 1612.9 914.5 C1618.6 917.0 1626.2 921.2 1631.9 921.1 C1636.7 921.0 1640.5 917.8 1645.2 915.8 C1650.6 913.6 1656.5 909.9 1662.3 908.4 C1667.9 907.0 1674.1 906.4 1679.4 906.9 C1684.2 907.4 1687.7 909.0 1692.7 910.7 C1699.3 913.0 1709.0 919.0 1715.4 919.8 C1719.8 920.3 1723.4 918.7 1726.8 918.3 C1729.6 917.9 1731.7 918.1 1734.4 917.3 C1737.9 916.3 1741.9 912.6 1745.8 912.0 C1749.5 911.4 1753.4 913.5 1757.2 913.5 C1761.0 913.5 1764.5 912.4 1768.6 912.0 C1773.3 911.5 1779.4 911.5 1783.8 910.7 C1787.4 910.1 1790.5 908.2 1793.3 908.2 C1795.4 908.2 1797.0 908.7 1799.0 909.7 C1801.9 911.2 1804.8 916.4 1808.5 917.7 C1812.3 919.0 1818.3 917.6 1821.8 917.3 C1824.1 917.1 1825.4 917.2 1827.5 916.4 C1830.7 915.2 1834.8 909.8 1838.9 909.7 C1843.6 909.5 1849.1 917.0 1854.1 917.3 C1858.6 917.6 1863.0 913.7 1867.3 912.6 C1871.2 911.6 1875.3 911.5 1878.7 910.7 C1881.5 910.0 1883.7 908.6 1886.3 908.4 C1888.8 908.2 1891.6 908.8 1893.9 909.7 C1896.1 910.5 1898.0 912.5 1900.0 913.5 C1901.7 914.4 1903.0 915.3 1905.0 915.7 C1907.9 916.3 1912.4 915.1 1915.9 915.3 C1919.3 915.5 1922.5 917.1 1925.9 917.0 C1929.5 916.9 1933.3 914.5 1936.8 914.5 C1940.2 914.5 1943.2 916.6 1946.7 916.8 C1950.7 917.0 1955.9 915.3 1959.7 915.0 C1962.7 914.8 1964.6 915.3 1967.6 914.8 C1971.7 914.1 1977.1 911.6 1981.6 910.1 C1985.7 908.7 1989.7 905.8 1993.5 906.1 C1997.3 906.4 2000.5 910.3 2004.4 912.1 C2008.7 914.0 2014.0 917.1 2018.4 917.0 C2022.3 916.9 2025.3 912.8 2029.3 912.5 C2033.8 912.1 2039.6 916.2 2044.2 916.0 C2048.2 915.8 2051.4 913.1 2055.2 912.5 C2059.0 911.9 2063.1 913.0 2067.1 912.7 C2071.1 912.4 2075.0 910.9 2079.0 910.6 C2083.0 910.3 2087.0 910.1 2091.0 910.8 C2095.3 911.5 2100.0 913.9 2103.9 915.0 C2107.0 915.9 2109.5 916.3 2112.3 917.0"/><path id="w7" d="M304.2 1024.5 C307.9 1025.3 310.8 1026.5 315.2 1026.8 C321.4 1027.3 330.0 1025.5 338.0 1025.4 C347.0 1025.3 357.0 1026.4 366.5 1026.4 C376.0 1026.4 385.4 1025.5 394.9 1025.4 C404.4 1025.3 414.2 1025.6 423.4 1025.8 C431.9 1026.0 441.1 1026.7 448.1 1026.4 C453.2 1026.2 456.1 1025.2 461.4 1025.1 C469.1 1025.0 479.7 1026.7 489.9 1026.8 C501.6 1026.9 516.1 1025.4 527.8 1025.1 C538.0 1024.9 548.0 1024.6 556.3 1025.1 C562.7 1025.5 568.3 1027.6 573.4 1027.3 C577.6 1027.1 580.1 1025.0 584.8 1024.5 C592.1 1023.7 603.8 1025.1 613.3 1025.4 C622.8 1025.7 632.3 1026.4 641.8 1026.4 C651.3 1026.4 660.8 1025.0 670.3 1025.1 C679.8 1025.2 691.4 1027.6 698.7 1026.8 C703.4 1026.3 706.4 1023.9 710.1 1023.5 C713.5 1023.1 716.5 1023.0 720.0 1023.9 C724.4 1025.1 730.7 1030.8 734.2 1031.2 C736.2 1031.4 737.2 1030.9 739.0 1029.9 C742.0 1028.3 746.4 1022.1 749.4 1020.4 C751.2 1019.4 752.6 1018.7 754.2 1018.9 C756.1 1019.2 758.1 1021.1 759.9 1022.7 C762.0 1024.6 763.6 1028.1 765.6 1029.9 C767.1 1031.3 768.7 1033.2 770.3 1033.1 C772.2 1032.9 774.2 1029.3 776.0 1027.4 C777.7 1025.5 779.0 1022.7 780.8 1021.7 C782.2 1020.9 783.7 1020.7 785.5 1021.1 C788.4 1021.7 792.9 1025.7 795.9 1027.4 C798.1 1028.6 799.7 1029.9 801.6 1030.3 C803.2 1030.6 804.6 1030.6 806.4 1029.9 C809.3 1028.8 813.9 1022.8 816.8 1022.3 C818.6 1022.0 820.0 1023.0 821.6 1023.6 C823.5 1024.3 825.4 1025.9 827.3 1026.5 C828.9 1027.0 830.1 1027.5 832.0 1027.4 C835.0 1027.2 840.4 1024.6 843.4 1024.0 C845.3 1023.6 846.3 1023.4 848.2 1023.6 C851.0 1023.9 855.6 1026.1 858.6 1026.8 C860.8 1027.3 862.3 1027.7 864.3 1027.8 C866.6 1027.9 869.2 1027.7 871.9 1027.4 C874.9 1027.1 878.4 1025.9 881.4 1025.9 C884.1 1025.9 886.8 1027.0 889.0 1027.0 C890.8 1027.0 892.1 1027.1 893.7 1026.5 C895.8 1025.8 898.3 1023.3 900.4 1022.3 C902.1 1021.5 903.3 1020.9 905.1 1020.8 C907.5 1020.7 911.2 1022.0 913.7 1023.0 C915.9 1023.8 917.6 1024.6 919.4 1026.1 C921.7 1027.9 923.9 1031.9 926.0 1033.7 C927.5 1035.0 929.0 1036.5 930.4 1036.3 C932.2 1036.0 933.9 1032.6 935.5 1030.3 C937.4 1027.5 938.7 1022.7 940.8 1020.4 C942.3 1018.7 944.2 1016.8 945.9 1017.0 C947.8 1017.2 949.7 1020.8 951.6 1022.7 C953.5 1024.6 955.4 1026.9 957.3 1028.4 C958.9 1029.6 960.5 1030.6 962.1 1031.2 C963.6 1031.8 965.2 1032.3 966.8 1032.2 C968.4 1032.1 970.1 1031.4 971.6 1030.3 C973.6 1028.9 975.4 1025.5 977.3 1023.6 C978.9 1022.0 980.3 1019.6 982.0 1019.4 C983.7 1019.2 986.0 1021.3 987.7 1022.7 C989.5 1024.2 990.7 1027.2 992.5 1028.4 C993.9 1029.4 995.6 1030.2 997.2 1029.9 C999.1 1029.6 1001.1 1027.2 1002.9 1025.5 C1004.9 1023.7 1006.7 1021.0 1008.6 1019.4 C1010.2 1018.1 1011.7 1016.8 1013.4 1016.4 C1014.9 1016.0 1016.3 1016.1 1018.1 1016.6 C1021.2 1017.5 1026.3 1021.8 1029.5 1023.2 C1031.7 1024.1 1033.0 1024.5 1035.2 1024.9 C1037.9 1025.4 1042.1 1024.8 1044.7 1025.5 C1046.6 1026.0 1047.7 1026.6 1049.4 1027.8 C1052.1 1029.6 1056.1 1034.8 1058.9 1036.3 C1060.6 1037.2 1062.0 1037.6 1063.7 1037.5 C1065.5 1037.4 1067.2 1036.6 1069.4 1035.6 C1072.6 1034.2 1077.3 1030.7 1080.8 1029.3 C1083.5 1028.2 1085.6 1028.1 1088.4 1027.4 C1091.8 1026.6 1095.9 1025.8 1099.7 1024.9 C1103.5 1024.0 1107.9 1022.2 1111.1 1022.1 C1113.3 1022.0 1114.8 1022.3 1116.8 1023.2 C1119.7 1024.5 1123.3 1028.8 1126.3 1030.6 C1128.6 1032.0 1130.3 1033.1 1133.0 1033.7 C1136.5 1034.4 1142.2 1033.8 1145.7 1033.4 C1148.3 1033.1 1150.3 1033.1 1152.3 1032.1 C1154.4 1031.1 1156.3 1029.6 1158.0 1027.3 C1160.6 1023.9 1162.5 1017.8 1164.7 1012.2 C1167.3 1005.4 1169.6 995.3 1172.3 989.4 C1174.1 985.4 1175.9 981.7 1178.0 979.9 C1179.5 978.7 1181.0 977.7 1182.7 978.0 C1185.0 978.4 1188.1 981.6 1190.3 984.6 C1193.2 988.6 1194.7 994.4 1197.0 1000.8 C1200.1 1009.6 1203.3 1022.4 1206.5 1033.0 C1209.6 1043.3 1212.7 1054.8 1215.9 1063.4 C1218.4 1070.0 1220.6 1076.4 1223.5 1080.5 C1225.5 1083.4 1227.9 1086.7 1230.2 1086.8 C1232.4 1086.9 1234.8 1084.2 1236.8 1081.5 C1239.9 1077.2 1241.9 1069.3 1244.4 1061.5 C1247.7 1050.9 1250.9 1035.2 1253.9 1023.5 C1256.5 1013.3 1258.3 1002.2 1261.5 995.1 C1263.7 990.2 1266.7 985.2 1269.1 983.7 C1270.4 982.9 1271.5 982.9 1272.9 983.3 C1275.1 984.0 1277.9 986.8 1280.5 989.4 C1284.1 993.0 1288.0 999.2 1291.9 1003.6 C1295.6 1007.7 1300.0 1011.2 1303.3 1015.0 C1306.2 1018.4 1308.2 1021.3 1310.9 1025.4 C1314.4 1030.7 1318.0 1039.4 1322.3 1044.4 C1325.8 1048.5 1330.1 1053.1 1333.7 1053.9 C1336.3 1054.5 1338.6 1053.4 1341.3 1052.0 C1345.3 1049.9 1350.2 1045.1 1354.6 1040.6 C1359.7 1035.3 1364.6 1026.9 1369.7 1021.6 C1374.1 1017.1 1378.7 1013.8 1383.0 1010.3 C1386.9 1007.2 1391.1 1003.3 1394.4 1001.7 C1396.5 1000.7 1398.1 1000.0 1400.1 1000.2 C1402.5 1000.4 1405.3 1001.7 1407.7 1003.6 C1411.0 1006.2 1413.8 1011.5 1417.2 1015.9 C1421.3 1021.1 1426.0 1027.5 1430.5 1033.0 C1434.9 1038.3 1439.6 1045.3 1443.8 1048.2 C1446.4 1050.0 1448.6 1051.0 1451.4 1051.1 C1454.8 1051.2 1459.2 1049.2 1462.8 1047.3 C1466.8 1045.2 1470.5 1042.4 1474.2 1038.7 C1478.8 1034.0 1483.1 1025.0 1487.5 1020.7 C1490.7 1017.6 1493.9 1015.7 1497.0 1014.1 C1499.6 1012.7 1502.0 1012.4 1504.6 1011.2 C1507.6 1009.8 1511.0 1006.7 1514.1 1006.1 C1516.7 1005.6 1518.7 1006.0 1521.6 1006.8 C1525.9 1008.0 1532.4 1010.7 1536.8 1014.1 C1541.3 1017.5 1544.2 1023.3 1548.2 1027.3 C1552.0 1031.1 1556.0 1035.1 1560.0 1037.5 C1563.3 1039.5 1565.9 1041.2 1570.1 1041.3 C1577.1 1041.5 1588.8 1036.7 1598.0 1032.4 C1608.2 1027.7 1620.2 1015.1 1628.4 1013.4 C1633.3 1012.4 1636.9 1013.5 1641.0 1015.4 C1646.2 1017.8 1650.6 1025.5 1656.2 1028.6 C1661.6 1031.6 1668.5 1034.3 1673.9 1034.2 C1678.5 1034.2 1682.0 1032.0 1686.6 1029.9 C1692.7 1027.2 1700.4 1019.5 1706.8 1018.5 C1712.1 1017.7 1717.4 1020.9 1722.0 1021.8 C1725.7 1022.5 1728.5 1022.5 1732.2 1023.5 C1736.8 1024.7 1742.0 1027.9 1747.3 1029.1 C1752.9 1030.3 1759.2 1030.9 1765.1 1030.4 C1771.0 1029.9 1777.1 1027.4 1782.8 1026.1 C1788.0 1024.9 1792.1 1023.4 1798.0 1023.0 C1805.8 1022.5 1816.7 1024.3 1825.8 1024.8 C1834.4 1025.3 1842.3 1026.0 1851.1 1026.1 C1860.8 1026.2 1871.2 1025.4 1881.5 1025.3 C1892.2 1025.2 1905.5 1026.2 1914.4 1025.6 C1920.4 1025.2 1924.8 1023.7 1929.6 1023.5 C1934.0 1023.3 1937.9 1023.7 1942.3 1024.3 C1947.2 1024.9 1951.6 1026.5 1957.5 1027.3 C1965.4 1028.4 1977.4 1029.3 1985.3 1029.4 C1991.1 1029.5 1995.5 1029.6 2000.5 1028.6 C2005.6 1027.6 2009.9 1024.6 2015.7 1023.5 C2023.0 1022.1 2033.1 1021.8 2041.0 1022.3 C2048.2 1022.8 2054.1 1025.1 2061.3 1026.1 C2069.2 1027.2 2079.6 1028.4 2086.6 1028.1 C2091.5 1027.9 2095.0 1026.4 2099.2 1026.1 C2103.4 1025.8 2107.7 1026.1 2111.9 1026.1"/><path id="w8" d="M304.2 1137.3 C306.6 1137.2 308.8 1136.7 311.4 1137.0 C314.8 1137.4 319.0 1140.2 322.8 1140.2 C326.6 1140.2 330.4 1137.3 334.2 1137.0 C338.0 1136.7 341.0 1138.1 345.6 1138.3 C352.6 1138.6 365.2 1136.6 372.2 1137.3 C376.8 1137.8 379.7 1140.2 383.5 1140.2 C387.3 1140.2 390.6 1137.8 394.9 1137.3 C400.4 1136.7 408.4 1138.0 413.9 1137.9 C418.2 1137.8 420.8 1137.0 425.3 1137.0 C431.6 1136.9 440.5 1138.3 448.1 1138.3 C455.7 1138.3 464.1 1137.1 470.9 1137.3 C476.5 1137.5 480.5 1138.8 486.1 1138.9 C492.9 1139.1 503.0 1138.7 508.9 1137.7 C512.8 1137.0 515.1 1134.7 518.4 1134.9 C522.0 1135.1 525.5 1139.0 529.7 1139.6 C534.7 1140.3 541.3 1138.4 546.8 1137.7 C552.0 1137.1 557.1 1135.7 562.0 1135.8 C566.6 1135.9 571.8 1138.0 575.3 1137.9 C577.6 1137.9 578.7 1136.8 581.0 1136.8 C584.5 1136.8 589.5 1139.0 594.3 1139.2 C600.1 1139.4 607.0 1137.4 613.3 1137.3 C619.6 1137.2 625.8 1138.4 632.3 1138.3 C639.1 1138.2 646.8 1136.5 653.2 1136.8 C658.7 1137.0 663.3 1139.2 668.4 1139.2 C673.4 1139.2 678.6 1136.8 683.5 1137.0 C688.1 1137.2 692.4 1140.7 696.8 1140.2 C701.3 1139.7 706.0 1133.9 710.1 1133.9 C713.6 1133.9 717.0 1137.6 720.0 1138.3 C722.4 1138.8 724.6 1138.1 726.6 1138.4 C728.3 1138.7 729.8 1139.1 731.4 1139.9 C733.3 1140.8 735.2 1143.5 737.1 1143.7 C738.7 1143.8 740.3 1142.8 741.8 1141.6 C743.8 1140.0 745.6 1136.2 747.5 1134.2 C749.1 1132.6 750.6 1130.7 752.3 1130.2 C753.8 1129.8 755.5 1130.1 757.0 1130.8 C758.9 1131.6 760.9 1133.7 762.7 1135.5 C764.7 1137.5 766.5 1140.7 768.4 1142.5 C769.9 1143.9 771.3 1145.7 772.8 1145.6 C774.5 1145.5 776.2 1142.4 777.9 1140.6 C779.8 1138.6 781.6 1135.0 783.6 1134.2 C785.1 1133.6 786.8 1134.1 788.4 1134.6 C790.3 1135.2 792.0 1137.3 794.1 1138.0 C796.4 1138.8 799.2 1138.8 801.6 1138.9 C803.9 1139.0 806.2 1139.1 808.3 1138.7 C810.3 1138.3 812.2 1137.1 814.0 1136.8 C815.6 1136.5 817.1 1136.5 818.7 1136.8 C820.5 1137.2 822.5 1138.8 824.4 1139.3 C826.0 1139.8 827.3 1140.1 829.2 1139.9 C832.4 1139.6 838.3 1136.8 841.5 1136.1 C843.4 1135.7 844.7 1135.5 846.3 1135.5 C847.9 1135.5 849.2 1135.6 851.0 1136.1 C853.7 1136.8 857.3 1139.5 860.5 1139.9 C863.6 1140.3 867.1 1138.8 870.0 1138.9 C872.4 1139.0 874.1 1140.3 876.6 1140.3 C879.7 1140.3 884.3 1138.6 887.1 1138.4 C889.0 1138.3 890.3 1139.0 891.8 1138.7 C893.4 1138.3 895.0 1137.2 896.6 1136.1 C898.5 1134.8 900.4 1131.8 902.3 1131.3 C903.8 1130.9 905.5 1131.5 907.0 1132.1 C908.6 1132.7 910.1 1134.1 911.8 1134.9 C913.6 1135.7 915.8 1135.9 917.5 1136.8 C919.2 1137.7 920.6 1138.8 922.2 1140.3 C924.1 1142.1 925.8 1146.3 927.9 1147.3 C929.4 1148.0 931.1 1148.3 932.7 1147.3 C936.2 1145.2 939.7 1128.8 943.1 1127.3 C944.7 1126.6 946.3 1127.5 947.8 1128.5 C949.9 1129.9 951.4 1134.3 953.5 1136.5 C955.3 1138.4 956.9 1140.0 959.2 1141.2 C961.8 1142.6 966.1 1144.0 968.7 1143.7 C970.6 1143.5 972.0 1142.5 973.5 1141.2 C975.5 1139.5 977.2 1135.3 979.2 1133.6 C980.7 1132.3 982.4 1130.8 983.9 1131.1 C985.8 1131.4 987.7 1135.5 989.6 1137.4 C991.2 1139.0 992.7 1141.0 994.4 1141.8 C995.9 1142.4 997.3 1142.6 999.1 1142.2 C1002.0 1141.5 1006.7 1136.5 1009.6 1135.5 C1011.4 1134.9 1012.4 1134.9 1014.3 1135.1 C1017.1 1135.4 1021.7 1137.8 1024.7 1138.0 C1026.9 1138.2 1028.3 1138.0 1030.4 1137.4 C1033.4 1136.6 1037.9 1133.6 1040.9 1132.7 C1043.0 1132.0 1044.7 1131.4 1046.6 1131.7 C1048.5 1132.0 1050.2 1133.3 1052.3 1134.6 C1055.1 1136.3 1059.1 1140.2 1061.8 1141.2 C1063.5 1141.9 1064.6 1141.9 1066.5 1141.8 C1069.3 1141.6 1074.0 1138.7 1077.0 1138.7 C1079.2 1138.7 1080.7 1139.3 1082.7 1140.3 C1085.6 1141.8 1089.3 1146.8 1092.2 1147.8 C1094.2 1148.5 1095.4 1148.2 1097.8 1147.8 C1102.3 1147.0 1112.3 1141.2 1116.8 1140.6 C1119.2 1140.3 1120.3 1140.7 1122.5 1141.2 C1125.5 1141.9 1129.1 1144.5 1133.0 1145.0 C1137.6 1145.6 1144.5 1145.0 1148.5 1143.6 C1151.3 1142.6 1153.1 1141.3 1155.2 1139.2 C1158.0 1136.5 1160.3 1132.4 1162.8 1127.8 C1166.1 1121.7 1169.2 1111.4 1172.3 1105.1 C1174.6 1100.5 1176.4 1095.3 1178.9 1093.3 C1180.4 1092.1 1182.1 1091.5 1183.7 1091.8 C1185.8 1092.2 1188.3 1095.0 1190.3 1097.5 C1192.9 1100.8 1194.8 1105.3 1197.0 1110.8 C1200.3 1119.1 1203.3 1132.4 1206.5 1143.0 C1209.6 1153.3 1212.7 1164.6 1215.9 1173.4 C1218.4 1180.3 1220.5 1187.0 1223.5 1191.5 C1225.7 1194.8 1228.3 1198.9 1230.8 1199.1 C1233.1 1199.2 1235.7 1196.3 1237.8 1193.4 C1241.2 1188.7 1243.8 1179.7 1246.3 1171.5 C1249.3 1161.5 1251.3 1148.5 1253.9 1137.3 C1256.4 1126.4 1258.7 1113.2 1261.5 1105.1 C1263.3 1099.9 1264.7 1095.1 1267.2 1092.7 C1268.9 1091.1 1271.0 1090.0 1272.9 1090.3 C1275.4 1090.8 1278.0 1094.6 1280.5 1097.5 C1283.7 1101.1 1286.4 1106.4 1290.0 1110.8 C1293.9 1115.6 1299.6 1120.5 1303.3 1125.0 C1306.3 1128.6 1308.5 1131.1 1310.9 1135.4 C1314.3 1141.4 1317.1 1153.3 1320.4 1158.2 C1322.3 1161.0 1323.6 1162.6 1326.1 1163.9 C1329.1 1165.5 1334.4 1166.6 1337.5 1166.2 C1339.8 1165.9 1341.2 1165.0 1343.2 1163.5 C1346.2 1161.2 1349.3 1156.0 1352.7 1152.5 C1356.2 1148.9 1360.3 1146.1 1364.1 1142.1 C1368.5 1137.4 1372.8 1130.9 1377.3 1125.9 C1381.6 1121.2 1386.2 1115.4 1390.6 1112.7 C1393.8 1110.7 1397.0 1109.3 1400.1 1109.4 C1403.3 1109.5 1406.6 1111.3 1409.6 1113.6 C1413.6 1116.7 1417.5 1122.3 1421.0 1127.8 C1425.2 1134.3 1428.2 1145.1 1432.4 1150.6 C1435.4 1154.5 1438.4 1156.6 1441.9 1159.2 C1445.6 1161.9 1450.4 1166.3 1454.2 1166.4 C1457.3 1166.5 1460.0 1164.4 1462.8 1162.0 C1466.8 1158.6 1469.9 1151.6 1474.2 1145.9 C1479.3 1139.1 1485.9 1128.1 1491.3 1124.1 C1494.6 1121.6 1497.6 1120.8 1500.8 1120.3 C1503.9 1119.9 1507.1 1121.2 1510.3 1121.2 C1513.4 1121.2 1516.8 1120.2 1519.7 1120.6 C1522.4 1120.9 1524.7 1121.5 1527.3 1123.1 C1531.0 1125.4 1535.0 1132.6 1538.7 1135.1 C1541.3 1136.9 1543.9 1136.9 1546.3 1138.3 C1548.9 1139.8 1551.5 1142.1 1553.9 1144.0 C1556.1 1145.8 1557.8 1148.3 1560.0 1149.5 C1562.0 1150.6 1563.7 1151.3 1566.3 1151.3 C1570.5 1151.3 1577.9 1147.4 1582.8 1146.2 C1586.5 1145.3 1588.8 1145.7 1592.9 1144.4 C1600.0 1142.1 1612.8 1133.9 1620.8 1131.0 C1626.5 1128.9 1632.2 1127.4 1635.9 1127.2 C1638.0 1127.1 1639.2 1127.0 1641.0 1128.0 C1644.1 1129.7 1647.0 1136.4 1651.1 1139.1 C1655.4 1141.9 1661.0 1143.8 1666.3 1144.4 C1671.9 1145.0 1678.9 1144.4 1684.1 1142.4 C1688.9 1140.6 1692.1 1135.3 1696.7 1133.5 C1701.3 1131.7 1707.1 1131.7 1711.9 1131.8 C1716.3 1131.8 1719.7 1132.3 1724.6 1133.5 C1731.7 1135.3 1742.8 1142.1 1749.9 1142.9 C1754.7 1143.4 1758.3 1141.5 1762.5 1141.1 C1766.7 1140.7 1770.6 1140.9 1775.2 1140.4 C1780.6 1139.8 1787.9 1138.5 1792.9 1137.3 C1796.8 1136.4 1799.3 1134.6 1803.0 1134.3 C1807.5 1133.9 1813.7 1135.3 1818.2 1136.1 C1822.0 1136.8 1825.0 1138.5 1828.4 1138.6 C1831.8 1138.7 1835.1 1136.7 1838.5 1136.8 C1841.9 1136.9 1845.2 1139.1 1848.6 1139.1 C1852.0 1139.1 1855.1 1136.9 1858.7 1136.8 C1862.7 1136.6 1866.8 1138.5 1871.4 1138.6 C1876.8 1138.7 1883.4 1137.4 1889.1 1136.8 C1894.4 1136.3 1899.5 1134.9 1904.3 1135.3 C1908.8 1135.6 1912.8 1138.4 1917.0 1138.6 C1921.2 1138.8 1925.4 1136.7 1929.6 1136.8 C1933.8 1136.9 1937.6 1138.5 1942.3 1139.1 C1948.2 1139.8 1956.3 1140.6 1962.5 1140.4 C1967.9 1140.3 1972.3 1139.2 1977.7 1138.6 C1984.0 1138.0 1991.0 1137.2 1998.0 1136.8 C2005.4 1136.4 2014.0 1135.8 2020.8 1136.1 C2026.4 1136.3 2031.2 1138.0 2035.9 1137.8 C2040.0 1137.6 2043.3 1135.3 2047.3 1135.3 C2051.7 1135.3 2056.5 1137.8 2061.3 1138.6 C2066.2 1139.4 2071.7 1140.3 2076.5 1139.9 C2080.9 1139.6 2084.9 1137.0 2089.1 1136.8 C2093.3 1136.6 2097.8 1138.7 2101.8 1138.6 C2105.4 1138.5 2108.5 1137.4 2111.9 1136.8"/><path id="w9" d="M304.2 1249.2 C306.6 1249.8 308.7 1250.9 311.4 1251.1 C314.7 1251.3 319.4 1249.7 322.8 1249.6 C325.6 1249.5 327.6 1250.3 330.4 1250.2 C333.8 1250.1 338.0 1248.3 341.8 1248.3 C345.6 1248.3 348.7 1250.0 353.2 1250.2 C359.5 1250.5 369.1 1248.7 375.9 1248.9 C381.5 1249.1 386.4 1250.9 391.1 1250.8 C395.2 1250.7 398.7 1248.9 402.5 1248.9 C406.3 1248.9 409.6 1250.6 413.9 1250.8 C419.4 1251.1 427.1 1250.1 432.9 1249.6 C437.7 1249.1 442.0 1247.6 446.2 1247.9 C450.2 1248.2 453.6 1250.9 457.6 1251.1 C461.8 1251.3 466.1 1248.8 470.9 1248.7 C476.7 1248.6 484.2 1252.1 489.9 1251.5 C494.8 1251.0 500.1 1247.1 503.2 1246.8 C504.8 1246.6 505.4 1246.9 507.0 1247.3 C509.8 1247.9 514.1 1250.4 518.4 1251.1 C523.8 1251.9 531.0 1251.2 537.3 1250.8 C543.6 1250.4 549.3 1249.0 556.3 1248.9 C564.8 1248.8 575.8 1251.2 584.8 1251.1 C592.8 1251.0 600.8 1248.7 607.6 1248.7 C613.2 1248.7 617.4 1249.9 622.8 1250.2 C628.8 1250.5 636.3 1250.9 641.8 1250.4 C646.1 1250.0 649.8 1248.5 653.2 1248.3 C656.0 1248.1 658.3 1248.9 660.8 1248.7 C663.3 1248.5 666.0 1247.1 668.4 1247.0 C670.4 1246.9 672.5 1247.0 674.1 1247.7 C675.6 1248.4 676.1 1250.6 677.8 1251.1 C680.3 1251.8 685.6 1247.6 688.3 1248.7 C691.0 1249.8 692.1 1255.3 694.0 1257.8 C695.5 1259.7 696.8 1262.8 698.4 1262.5 C701.6 1262.0 705.5 1240.2 709.2 1237.8 C710.7 1236.8 712.4 1237.1 713.9 1237.8 C716.0 1238.7 718.2 1242.0 720.0 1244.5 C721.9 1247.2 723.0 1250.9 724.7 1253.5 C726.2 1255.7 727.7 1258.4 729.5 1259.2 C730.9 1259.8 732.6 1259.8 734.2 1258.9 C737.4 1257.1 741.5 1245.2 744.7 1243.7 C746.3 1242.9 747.6 1243.4 749.4 1244.1 C752.5 1245.4 757.7 1251.7 760.8 1253.5 C762.6 1254.6 764.0 1255.3 765.6 1255.4 C767.2 1255.5 768.6 1254.9 770.3 1253.9 C773.3 1252.2 777.8 1244.8 780.8 1244.1 C782.5 1243.7 783.7 1244.5 785.5 1245.4 C788.6 1246.9 793.8 1252.7 796.9 1253.5 C798.7 1254.0 799.8 1253.6 801.6 1253.0 C804.7 1252.0 809.9 1247.6 813.0 1246.3 C814.9 1245.5 815.9 1244.8 817.8 1245.0 C820.7 1245.3 824.8 1249.0 828.2 1250.7 C831.4 1252.3 835.0 1254.6 837.7 1254.9 C839.5 1255.1 840.8 1254.7 842.5 1254.1 C844.6 1253.3 847.0 1250.9 849.1 1250.1 C850.8 1249.5 852.2 1249.2 853.9 1249.2 C855.9 1249.1 858.6 1250.3 860.5 1250.1 C862.0 1250.0 863.0 1249.4 864.3 1248.8 C865.8 1248.1 867.4 1246.5 869.1 1245.9 C870.6 1245.4 872.1 1245.3 873.8 1245.4 C876.0 1245.5 879.3 1246.6 881.4 1246.9 C882.9 1247.1 883.9 1246.8 885.2 1247.3 C886.8 1247.9 888.4 1249.2 889.9 1250.7 C891.9 1252.7 893.6 1257.2 895.6 1258.9 C897.0 1260.1 898.5 1261.6 900.0 1261.1 C903.1 1260.1 906.6 1244.1 909.9 1242.2 C911.5 1241.3 912.8 1241.9 914.6 1242.5 C917.5 1243.4 922.2 1246.6 925.1 1248.8 C927.4 1250.5 928.8 1252.8 930.8 1254.1 C932.5 1255.2 934.3 1256.9 936.1 1256.4 C939.2 1255.5 942.7 1242.9 945.9 1241.8 C947.7 1241.2 949.7 1242.4 951.3 1243.7 C953.4 1245.5 954.5 1250.2 956.4 1252.6 C958.0 1254.6 959.7 1256.9 961.5 1257.3 C963.2 1257.6 964.9 1256.5 966.8 1255.4 C969.9 1253.6 974.2 1248.0 977.3 1246.3 C979.4 1245.2 981.2 1244.5 983.0 1244.6 C984.7 1244.7 985.9 1245.5 987.7 1246.5 C990.4 1248.0 994.4 1252.3 997.2 1253.2 C999.0 1253.8 1000.1 1253.6 1002.0 1253.2 C1004.9 1252.6 1009.4 1249.6 1012.4 1248.8 C1014.5 1248.2 1015.8 1248.1 1018.1 1248.2 C1021.6 1248.4 1027.6 1251.0 1031.4 1251.3 C1034.3 1251.5 1036.5 1251.0 1039.0 1250.7 C1041.5 1250.3 1044.4 1249.3 1046.6 1249.2 C1048.3 1249.1 1049.6 1249.1 1051.3 1249.7 C1053.8 1250.6 1057.4 1254.5 1059.9 1255.4 C1061.6 1256.0 1062.8 1256.2 1064.6 1255.8 C1067.5 1255.1 1072.0 1250.2 1075.1 1249.4 C1077.2 1248.9 1078.8 1248.9 1080.8 1249.7 C1083.7 1250.8 1087.0 1255.4 1090.3 1257.3 C1093.3 1259.1 1096.5 1260.6 1099.7 1261.1 C1102.8 1261.6 1106.1 1261.2 1109.2 1260.2 C1112.5 1259.1 1115.8 1257.1 1118.7 1254.5 C1122.2 1251.4 1125.2 1247.3 1128.2 1242.2 C1132.4 1235.1 1136.1 1221.9 1140.0 1215.1 C1142.6 1210.6 1144.9 1205.5 1147.6 1204.6 C1149.4 1204.0 1151.5 1205.2 1153.3 1206.5 C1156.0 1208.5 1158.7 1212.6 1160.9 1217.0 C1164.0 1222.9 1165.9 1231.3 1168.5 1239.7 C1171.6 1249.9 1174.6 1263.3 1178.0 1273.9 C1181.0 1283.4 1184.4 1294.0 1187.5 1300.5 C1189.4 1304.6 1190.9 1309.5 1193.2 1310.0 C1195.4 1310.4 1198.5 1307.2 1200.8 1304.3 C1204.4 1299.8 1207.4 1291.5 1210.3 1283.4 C1213.9 1273.1 1216.8 1259.0 1219.7 1247.3 C1222.4 1236.3 1224.0 1223.2 1227.3 1215.1 C1229.5 1209.6 1232.0 1202.8 1234.9 1202.2 C1237.2 1201.7 1240.1 1204.9 1242.5 1207.5 C1245.9 1211.0 1248.5 1217.9 1252.0 1222.7 C1255.5 1227.4 1259.5 1231.2 1263.4 1235.9 C1267.7 1241.2 1272.2 1246.8 1276.7 1253.0 C1281.7 1260.0 1287.1 1271.8 1291.9 1275.8 C1294.5 1278.0 1296.7 1278.7 1299.5 1279.1 C1302.9 1279.5 1307.4 1279.1 1310.9 1277.3 C1315.1 1275.2 1318.7 1271.1 1322.3 1266.3 C1327.2 1259.7 1331.5 1247.8 1335.6 1239.7 C1339.0 1232.9 1341.2 1224.9 1345.1 1220.8 C1347.9 1217.9 1351.3 1216.0 1354.6 1215.4 C1357.7 1214.9 1361.2 1215.3 1364.1 1217.0 C1367.7 1219.1 1370.5 1223.6 1373.5 1228.4 C1377.6 1234.8 1381.0 1245.2 1384.9 1253.0 C1388.6 1260.3 1392.1 1269.1 1396.3 1273.9 C1399.3 1277.3 1402.3 1280.6 1405.8 1280.9 C1409.8 1281.2 1415.1 1277.1 1419.1 1273.9 C1423.4 1270.5 1426.7 1265.5 1430.5 1260.6 C1434.9 1254.9 1439.4 1246.2 1443.8 1241.6 C1447.0 1238.3 1449.9 1235.6 1453.3 1234.4 C1456.3 1233.3 1459.6 1234.5 1462.8 1234.1 C1466.0 1233.7 1469.2 1231.7 1472.3 1232.2 C1475.6 1232.8 1478.5 1235.7 1481.8 1237.8 C1485.5 1240.1 1489.5 1242.4 1493.2 1245.4 C1497.2 1248.7 1500.8 1253.9 1504.6 1256.8 C1507.7 1259.2 1510.9 1261.8 1514.1 1262.2 C1517.2 1262.6 1520.3 1260.8 1523.5 1259.7 C1527.2 1258.4 1530.9 1256.1 1534.9 1254.6 C1539.1 1253.1 1543.9 1251.4 1548.2 1250.8 C1552.2 1250.2 1556.7 1250.3 1560.0 1250.6 C1562.4 1250.8 1563.9 1251.9 1566.3 1251.9 C1569.5 1251.8 1574.0 1249.6 1577.7 1249.1 C1581.1 1248.6 1584.4 1249.2 1587.8 1248.6 C1591.5 1248.0 1595.0 1245.4 1599.2 1245.3 C1604.2 1245.2 1610.6 1247.6 1615.7 1249.4 C1620.3 1251.0 1623.9 1254.8 1628.4 1255.4 C1633.1 1256.0 1638.4 1254.1 1643.5 1252.4 C1649.3 1250.5 1655.5 1245.2 1661.3 1244.3 C1666.5 1243.5 1671.9 1245.9 1676.5 1246.1 C1680.2 1246.2 1682.9 1245.2 1686.6 1245.6 C1691.2 1246.1 1696.1 1248.5 1701.8 1249.9 C1709.1 1251.7 1719.8 1255.6 1727.1 1255.4 C1732.8 1255.2 1737.7 1251.9 1742.3 1251.1 C1746.0 1250.5 1748.9 1250.9 1752.4 1250.4 C1756.4 1249.8 1760.2 1247.9 1765.1 1247.3 C1771.5 1246.5 1781.0 1246.7 1787.8 1247.3 C1793.4 1247.8 1797.4 1249.0 1803.0 1249.9 C1809.8 1251.0 1819.0 1253.2 1825.8 1253.2 C1831.4 1253.2 1836.5 1252.2 1841.0 1251.1 C1844.8 1250.1 1847.7 1247.7 1851.1 1247.3 C1854.4 1246.9 1857.6 1248.8 1861.3 1248.6 C1865.9 1248.4 1872.0 1245.2 1876.5 1245.3 C1880.2 1245.4 1882.6 1246.9 1886.6 1247.8 C1892.2 1249.0 1900.5 1250.6 1906.8 1251.6 C1912.2 1252.5 1917.2 1253.8 1922.0 1253.7 C1926.4 1253.6 1930.5 1251.6 1934.7 1251.6 C1938.9 1251.6 1943.1 1254.0 1947.3 1253.7 C1951.6 1253.4 1954.8 1251.0 1960.0 1249.9 C1967.9 1248.3 1982.5 1246.8 1990.4 1246.6 C1995.5 1246.5 1998.8 1246.6 2003.0 1247.3 C2007.3 1248.0 2011.4 1250.2 2015.7 1251.1 C2019.9 1252.0 2023.8 1252.6 2028.4 1252.9 C2033.8 1253.3 2040.3 1254.0 2046.1 1252.9 C2052.1 1251.8 2058.3 1246.7 2063.8 1246.1 C2068.3 1245.6 2072.3 1247.8 2076.5 1248.1 C2080.7 1248.4 2084.3 1247.5 2089.1 1247.8 C2095.6 1248.2 2104.3 1250.0 2111.9 1251.1"/><path id="w10" d="M304.2 1361.7 C310.4 1362.1 317.4 1363.3 322.8 1363.0 C327.1 1362.8 330.2 1361.2 334.2 1361.1 C338.5 1361.0 342.2 1362.3 347.5 1362.5 C355.2 1362.8 369.0 1361.1 375.9 1361.5 C379.9 1361.7 382.2 1363.1 385.4 1363.0 C388.6 1362.9 391.6 1361.2 394.9 1361.1 C398.5 1361.0 401.7 1362.4 406.3 1362.7 C413.3 1363.1 424.4 1361.9 432.9 1361.9 C440.8 1361.9 449.4 1363.0 455.7 1362.7 C460.2 1362.5 463.3 1361.0 467.1 1361.1 C470.9 1361.2 473.5 1363.1 478.5 1363.4 C487.7 1364.0 508.3 1360.4 518.4 1360.8 C524.6 1361.0 528.6 1363.0 533.5 1363.0 C538.1 1363.0 542.0 1361.3 546.8 1361.1 C552.6 1360.9 559.5 1362.5 565.8 1362.5 C572.1 1362.5 577.8 1361.4 584.8 1361.3 C593.3 1361.2 603.8 1362.4 613.3 1362.5 C622.8 1362.6 633.3 1362.0 641.8 1361.7 C648.8 1361.5 655.0 1360.6 660.8 1360.9 C665.6 1361.2 669.9 1363.1 674.1 1363.0 C678.0 1362.9 681.8 1360.8 685.4 1360.9 C688.7 1361.0 691.4 1363.0 694.9 1363.0 C699.4 1362.9 705.6 1359.3 710.1 1359.2 C713.7 1359.1 717.1 1360.6 720.0 1361.1 C722.2 1361.5 723.6 1361.2 725.7 1362.0 C728.8 1363.2 733.3 1368.9 736.1 1368.9 C738.0 1368.9 739.4 1367.3 740.9 1365.8 C742.9 1363.9 744.6 1359.6 746.6 1357.8 C748.1 1356.5 749.5 1355.3 751.3 1355.4 C753.8 1355.5 757.1 1358.9 759.9 1360.7 C762.5 1362.4 765.2 1364.7 767.5 1365.8 C769.2 1366.6 770.4 1367.7 772.2 1367.3 C775.2 1366.7 779.7 1358.6 782.7 1357.8 C784.4 1357.3 785.7 1358.2 787.4 1358.8 C789.7 1359.6 792.3 1361.6 795.0 1362.6 C797.7 1363.6 801.1 1364.9 803.5 1364.9 C805.3 1364.9 806.7 1364.3 808.3 1363.5 C810.2 1362.6 812.1 1360.3 814.0 1359.7 C815.6 1359.2 817.1 1359.3 818.7 1359.7 C820.6 1360.2 822.5 1362.4 824.4 1363.0 C826.0 1363.5 827.3 1363.7 829.2 1363.5 C832.0 1363.3 835.8 1361.2 839.6 1360.7 C844.2 1360.2 850.2 1360.5 854.8 1361.1 C858.6 1361.6 861.8 1363.2 865.3 1363.5 C868.8 1363.8 872.3 1362.7 875.7 1363.0 C879.0 1363.2 882.3 1364.7 885.2 1364.9 C887.6 1365.1 889.6 1365.4 891.8 1364.5 C894.9 1363.2 898.3 1356.8 901.3 1355.9 C903.3 1355.3 904.9 1356.3 907.0 1356.9 C909.6 1357.7 913.1 1359.2 915.6 1360.7 C917.8 1362.1 919.5 1363.6 921.3 1365.4 C923.3 1367.4 924.8 1371.7 927.0 1372.5 C928.7 1373.2 931.1 1372.7 932.7 1371.5 C934.9 1369.8 935.6 1364.5 937.4 1361.3 C939.1 1358.2 941.0 1353.0 943.1 1352.5 C944.6 1352.1 946.3 1353.8 947.8 1355.0 C949.8 1356.6 951.5 1360.0 953.5 1362.0 C955.3 1363.8 957.2 1365.5 959.2 1366.4 C961.0 1367.2 963.2 1367.4 964.9 1367.3 C966.3 1367.2 967.3 1367.2 968.7 1366.4 C971.5 1364.8 976.1 1357.0 979.2 1355.6 C980.9 1354.8 982.2 1354.7 983.9 1355.4 C986.9 1356.6 991.4 1364.8 994.4 1366.0 C996.1 1366.7 997.3 1366.3 999.1 1365.8 C1002.0 1365.0 1006.6 1361.5 1009.6 1360.3 C1011.7 1359.5 1013.5 1358.8 1015.3 1358.8 C1016.9 1358.8 1018.2 1359.3 1020.0 1360.1 C1022.9 1361.3 1027.5 1365.6 1030.4 1366.4 C1032.2 1366.9 1033.3 1366.8 1035.2 1366.4 C1038.3 1365.7 1043.6 1361.2 1046.6 1360.7 C1048.5 1360.4 1049.5 1360.7 1051.3 1361.3 C1054.2 1362.2 1058.9 1366.5 1061.8 1367.0 C1063.6 1367.3 1064.7 1367.0 1066.5 1366.4 C1069.4 1365.3 1074.1 1360.4 1077.0 1359.7 C1078.8 1359.3 1079.7 1359.6 1081.7 1360.1 C1085.5 1361.0 1094.2 1365.7 1097.8 1366.4 C1099.5 1366.7 1100.0 1366.6 1101.6 1366.4 C1104.4 1366.0 1109.0 1362.6 1113.0 1363.0 C1117.8 1363.5 1124.3 1369.9 1128.2 1371.5 C1130.5 1372.4 1132.0 1372.8 1133.9 1373.0 C1135.9 1373.2 1137.8 1373.1 1140.0 1372.5 C1142.9 1371.8 1146.7 1370.3 1149.5 1368.3 C1152.4 1366.1 1154.8 1363.3 1157.1 1359.7 C1160.0 1355.2 1162.1 1348.8 1164.7 1342.7 C1167.7 1335.7 1170.9 1325.4 1174.2 1319.9 C1176.3 1316.3 1178.4 1312.5 1180.8 1311.9 C1182.6 1311.4 1184.7 1312.6 1186.5 1314.2 C1189.6 1316.9 1192.5 1323.2 1195.1 1329.4 C1198.7 1338.0 1201.2 1350.6 1204.6 1361.6 C1208.2 1373.3 1212.3 1387.6 1215.9 1397.7 C1218.5 1405.1 1220.7 1412.3 1223.5 1416.7 C1225.3 1419.5 1227.0 1422.5 1229.2 1422.8 C1231.4 1423.2 1234.6 1421.0 1236.8 1418.6 C1240.0 1415.1 1242.0 1408.5 1244.4 1401.5 C1247.9 1391.1 1250.8 1373.8 1253.9 1361.6 C1256.5 1351.3 1258.4 1340.7 1261.5 1333.2 C1263.7 1327.8 1266.6 1321.8 1269.1 1319.9 C1270.4 1318.9 1271.5 1318.6 1272.9 1318.9 C1275.1 1319.4 1277.8 1322.9 1280.5 1325.6 C1284.0 1329.2 1287.9 1335.0 1291.9 1338.9 C1295.6 1342.5 1299.8 1344.5 1303.3 1348.4 C1307.5 1353.0 1310.9 1359.7 1314.7 1365.4 C1318.5 1371.1 1322.3 1377.7 1326.1 1382.5 C1329.2 1386.5 1332.3 1392.2 1335.6 1392.6 C1338.6 1393.0 1341.9 1388.7 1345.1 1386.3 C1348.8 1383.5 1352.8 1380.8 1356.5 1376.8 C1361.1 1371.8 1364.5 1363.2 1369.7 1357.8 C1374.7 1352.6 1381.1 1348.4 1386.8 1344.6 C1391.9 1341.2 1397.5 1336.3 1402.0 1336.0 C1405.5 1335.8 1408.4 1337.5 1411.5 1339.8 C1416.0 1343.1 1420.5 1350.1 1424.8 1355.9 C1429.4 1362.1 1433.0 1370.4 1438.1 1375.9 C1442.7 1380.8 1448.6 1386.8 1453.3 1387.8 C1456.7 1388.5 1459.6 1387.3 1462.8 1385.4 C1467.7 1382.5 1473.3 1374.9 1478.0 1369.2 C1482.8 1363.5 1486.3 1355.4 1491.3 1351.2 C1495.4 1347.8 1500.0 1345.7 1504.6 1344.6 C1508.9 1343.5 1513.2 1343.4 1517.8 1344.2 C1523.2 1345.2 1529.8 1348.0 1534.9 1351.2 C1539.9 1354.4 1543.8 1359.8 1548.2 1363.5 C1552.2 1366.8 1556.0 1370.6 1560.0 1372.4 C1563.3 1373.9 1566.1 1374.4 1570.1 1374.4 C1575.7 1374.4 1584.0 1372.6 1590.4 1370.6 C1596.6 1368.7 1602.8 1365.8 1608.1 1363.0 C1612.8 1360.5 1616.4 1356.8 1620.8 1354.7 C1624.9 1352.7 1630.1 1350.6 1633.4 1350.4 C1635.5 1350.3 1636.5 1350.7 1638.5 1351.6 C1641.9 1353.2 1646.2 1358.0 1651.1 1361.0 C1656.9 1364.6 1665.2 1371.3 1671.4 1371.1 C1676.9 1370.9 1681.2 1364.9 1686.6 1362.3 C1692.2 1359.6 1698.5 1356.4 1704.3 1355.4 C1709.5 1354.5 1714.6 1354.7 1719.5 1355.9 C1724.7 1357.1 1729.4 1361.0 1734.7 1363.0 C1740.3 1365.0 1746.7 1367.7 1752.4 1367.8 C1757.6 1367.9 1762.7 1365.0 1767.6 1364.3 C1772.0 1363.7 1775.9 1364.3 1780.3 1363.5 C1785.2 1362.6 1789.9 1359.2 1795.4 1358.5 C1801.6 1357.7 1809.0 1359.0 1815.7 1359.7 C1822.5 1360.4 1829.6 1362.7 1835.9 1362.8 C1841.3 1362.9 1846.3 1360.6 1851.1 1361.0 C1855.6 1361.4 1859.5 1364.7 1863.8 1364.8 C1868.0 1364.9 1871.7 1362.5 1876.5 1361.8 C1882.4 1360.9 1890.0 1360.7 1896.7 1360.5 C1903.5 1360.3 1910.7 1360.0 1917.0 1360.5 C1922.5 1360.9 1926.4 1362.4 1932.2 1363.0 C1940.1 1363.8 1950.5 1364.5 1960.0 1364.3 C1969.9 1364.1 1981.3 1362.1 1990.4 1361.8 C1997.8 1361.6 2004.1 1362.7 2010.6 1362.3 C2016.7 1361.9 2022.7 1359.6 2028.4 1359.7 C2033.6 1359.8 2038.7 1362.1 2043.5 1362.3 C2047.9 1362.5 2051.8 1361.0 2056.2 1361.0 C2061.0 1361.0 2066.1 1362.4 2071.4 1362.8 C2077.1 1363.2 2083.5 1364.1 2089.1 1363.5 C2094.4 1363.0 2100.1 1360.1 2104.3 1359.7 C2107.2 1359.5 2109.4 1360.1 2111.9 1360.3"/></defs>
<use href="#w1" transform="translate(0 1120.90)" stroke="#808080" stroke-width="2"/>
<use href="#w2" transform="translate(0 1008.81)" stroke="#808080" stroke-width="2"/>
<use href="#w3" transform="translate(0 896.72)" stroke="#808080" stroke-width="2"/>
<use href="#w4" transform="translate(0 784.63)" stroke="#808080" stroke-width="2"/>
<use href="#w5" transform="translate(0 672.54)" stroke="#808080" stroke-width="2"/>
<use href="#w6" transform="translate(0 560.45)" stroke="#808080" stroke-width="2"/>
<use href="#w7" transform="translate(0 448.36)" stroke="#808080" stroke-width="2"/>
<use href="#w8" transform="translate(0 336.27)" stroke="#808080" stroke-width="2"/>
<use href="#w9" transform="translate(0 224.18)" stroke="#808080" stroke-width="2"/>
<use href="#w10" transform="translate(0 112.09)" stroke="#808080" stroke-width="2"/>
<use href="#w0" transform="translate(0 1232.99)" stroke="#0000ff" stroke-width="2"/>
<use href="#w0" stroke="#0000ff" stroke-width="2"/>
<use href="#w1" stroke="#404040" stroke-width="2"/>
<use href="#w2" stroke="#404040" stroke-width="2"/>
<use href="#w3" stroke="#404040" stroke-width="2"/>
<use href="#w4" stroke="#404040" stroke-width="2"/>
<use href="#w5" stroke="#404040" stroke-width="2"/>
<use href="#w6" stroke="#404040" stroke-width="2"/>
<use href="#w7" stroke="#404040" stroke-width="2"/>
<use href="#w8" stroke="#404040" stroke-width="2"/>
<use href="#w9" stroke="#404040" stroke-width="2"/>
<use href="#w10" stroke="#404040" stroke-width="2"/>
</g>
<rect x="661.6" y="213.0" width="8.4" height="56" fill="#ff0000"/>
<rect x="1095.4" y="213.0" width="8.4" height="56" fill="#00e000"/>
<rect x="1144.1" y="325.1" width="8.4" height="56" fill="#00e000"/>
<rect x="1137.1" y="437.2" width="8.4" height="56" fill="#00e000"/>
<rect x="1170.2" y="549.3" width="8.4" height="56" fill="#00e000"/>
<rect x="1146.0" y="661.4" width="8.4" height="56" fill="#00e000"/>
<rect x="1135.3" y="773.5" width="8.4" height="56" fill="#00e000"/>
<rect x="1147.4" y="885.5" width="8.4" height="56" fill="#00e000"/>
<rect x="1179.4" y="997.6" width="8.4" height="56" fill="#00e000"/>
<rect x="1181.3" y="1109.7" width="8.4" height="56" fill="#00e000"/>
<rect x="1133.2" y="1221.8" width="8.4" height="56" fill="#00e000"/>
<rect x="1176.2" y="1333.9" width="8.4" height="56" fill="#00e000"/>
<text x="325.3 351.9 378.3 404.9 431.6 458.2 484.6 511.3 537.8 563.6 578.2 591.0 605.0 631.4 645.2 671.8" y="228.5" font-size="44.3" fill="#000">605500171 | 1.00</text>
<text x="325.0 351.7 378.5 405.1 431.1 458.1 484.8 510.5 525.0 537.8 552.1 578.2 591.9 618.4" y="340.6" font-size="44.3" fill="#000">1500256 | 0.79</text>
<text x="325.0 351.7 378.5 405.1 431.7 458.2 484.8 510.5 525.0 537.8 552.1 578.2 591.9 618.6" y="452.7" font-size="44.3" fill="#000">1500308 | 0.76</text>
<text x="325.0 351.9 378.5 405.1 431.7 458.2 484.6 510.5 525.0 537.8 552.1 578.2 591.9 618.4" y="564.8" font-size="44.3" fill="#000">1346671 | 0.75</text>
<text x="325.0 351.7 378.5 405.1 431.7 457.7 484.8 510.5 525.0 537.8 552.1 578.2 591.9 618.4" y="676.9" font-size="44.3" fill="#000">1500327 | 0.75</text>
<text x="325.0 351.7 378.5 405.1 431.7 458.2 484.6 510.5 525.0 537.8 552.1 578.2 591.9 618.4" y="789.0" font-size="44.3" fill="#000">1500301 | 0.75</text>
<text x="325.0 351.7 378.5 405.1 431.7 458.3 484.8 510.5 525.0 537.8 552.1 578.2 591.9 618.6" y="901.0" font-size="44.3" fill="#000">1500334 | 0.74</text>
<text x="325.0 351.9 378.5 405.1 431.7 458.2 484.8 510.5 525.0 537.8 552.1 578.2 591.9 618.6" y="1013.1" font-size="44.3" fill="#000">1346676 | 0.74</text>
<text x="325.0 351.9 378.5 405.1 431.7 458.2 484.9 510.5 525.0 537.8 552.1 578.2 591.9 618.6" y="1125.2" font-size="44.3" fill="#000">1346673 | 0.73</text>
<text x="325.0 351.9 378.5 405.1 431.6 458.2 484.3 510.5 525.0 537.8 552.1 578.2 591.9 618.0" y="1237.3" font-size="44.3" fill="#000">1340482 | 0.72</text>
<text x="325.0 351.9 378.5 405.1 431.7 458.2 484.9 510.5 525.0 537.8 552.1 578.2 591.9 618.3" y="1349.4" font-size="44.3" fill="#000">1346683 | 0.71</text>
<text x="417.9 434.2 460.9 474.4" y="1617.2" font-size="45.4" fill="#262626">-0.2</text>
<text x="653.5" y="1617.2" font-size="45.4" fill="#262626">0</text>
<text x="839.7 866.4 880.0" y="1617.2" font-size="45.4" fill="#262626">0.2</text>
<text x="1046.3 1073.0 1087.1" y="1617.2" font-size="45.4" fill="#262626">0.4</text>
<text x="1252.9 1279.6 1293.8" y="1617.2" font-size="45.4" fill="#262626">0.6</text>
<text x="1459.5 1486.3 1500.4" y="1617.2" font-size="45.4" fill="#262626">0.8</text>
<text x="1686.3" y="1617.2" font-size="45.4" fill="#262626">1</text>
<text x="1872.5 1899.5 1913.1" y="1617.2" font-size="45.4" fill="#262626">1.2</text>
<text x="2079.2 2106.1 2120.2" y="1617.2" font-size="45.4" fill="#262626">1.4</text>
</svg></body></html>
